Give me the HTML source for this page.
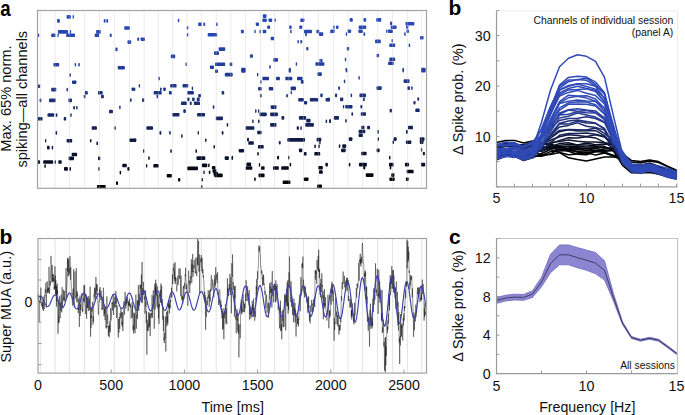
<!DOCTYPE html>
<html><head><meta charset="utf-8"><style>
html,body{margin:0;padding:0;background:#fff;width:685px;height:415px;overflow:hidden;}
svg{display:block;}
text{font-family:"Liberation Sans",sans-serif;}
</style></head><body>
<svg width="685" height="415" viewBox="0 0 685 415">
<rect width="685" height="415" fill="#fff"/>
<g id="pa">
<rect x="66.6" y="15.1" width="4.3" height="3.6" rx="0.9" fill="rgb(41,73,185)"/>
<rect x="72.6" y="15.1" width="1.3" height="3.6" rx="0.9" fill="rgb(41,73,185)"/>
<rect x="57.0" y="19.1" width="2.9" height="3.6" rx="0.9" fill="rgb(41,73,184)"/>
<rect x="103.7" y="19.1" width="1.9" height="3.6" rx="0.9" fill="rgb(41,73,184)"/>
<rect x="106.3" y="19.1" width="1.8" height="3.6" rx="0.9" fill="rgb(41,73,184)"/>
<rect x="124.2" y="26.2" width="5.8" height="3.6" rx="0.9" fill="rgb(41,72,181)"/>
<rect x="57.9" y="30.1" width="10.2" height="3.6" rx="0.9" fill="rgb(40,71,179)"/>
<rect x="69.8" y="30.1" width="1.3" height="3.6" rx="0.9" fill="rgb(40,71,179)"/>
<rect x="96.1" y="30.1" width="4.7" height="3.6" rx="0.9" fill="rgb(40,71,179)"/>
<rect x="37.0" y="33.5" width="2.2" height="3.6" rx="0.9" fill="rgb(40,70,177)"/>
<rect x="51.2" y="33.5" width="4.3" height="3.6" rx="0.9" fill="rgb(40,70,177)"/>
<rect x="57.4" y="33.5" width="1.3" height="3.6" rx="0.9" fill="rgb(40,70,177)"/>
<rect x="66.2" y="33.5" width="8.8" height="3.6" rx="0.9" fill="rgb(40,70,177)"/>
<rect x="94.7" y="33.5" width="4.3" height="3.6" rx="0.9" fill="rgb(40,70,177)"/>
<rect x="109.7" y="33.5" width="2.0" height="3.6" rx="0.9" fill="rgb(40,70,177)"/>
<rect x="127.5" y="40.3" width="3.7" height="3.6" rx="0.9" fill="rgb(39,69,173)"/>
<rect x="115.4" y="47.6" width="2.2" height="3.6" rx="0.9" fill="rgb(38,67,168)"/>
<rect x="53.4" y="62.9" width="5.8" height="3.6" rx="0.9" fill="rgb(35,62,156)"/>
<rect x="74.7" y="62.9" width="1.4" height="3.6" rx="0.9" fill="rgb(35,62,156)"/>
<rect x="78.2" y="62.9" width="1.6" height="3.6" rx="0.9" fill="rgb(35,62,156)"/>
<rect x="117.7" y="65.9" width="7.2" height="3.6" rx="0.9" fill="rgb(34,61,153)"/>
<rect x="177.8" y="18.7" width="1.5" height="3.6" rx="0.9" fill="rgb(41,73,184)"/>
<rect x="198.2" y="22.5" width="3.6" height="3.6" rx="0.9" fill="rgb(41,72,183)"/>
<rect x="203.3" y="22.5" width="1.9" height="3.6" rx="0.9" fill="rgb(41,72,183)"/>
<rect x="216.0" y="22.5" width="1.6" height="3.6" rx="0.9" fill="rgb(41,72,183)"/>
<rect x="186.8" y="26.0" width="1.5" height="3.6" rx="0.9" fill="rgb(41,72,181)"/>
<rect x="186.8" y="33.0" width="1.5" height="3.6" rx="0.9" fill="rgb(40,70,178)"/>
<rect x="207.7" y="33.0" width="9.5" height="3.6" rx="0.9" fill="rgb(40,70,178)"/>
<rect x="137.2" y="37.4" width="1.9" height="3.6" rx="0.9" fill="rgb(39,69,175)"/>
<rect x="140.6" y="37.4" width="4.4" height="3.6" rx="0.9" fill="rgb(39,69,175)"/>
<rect x="218.7" y="47.3" width="6.5" height="3.6" rx="0.9" fill="rgb(38,67,168)"/>
<rect x="214.0" y="51.3" width="5.0" height="3.6" rx="0.9" fill="rgb(37,65,165)"/>
<rect x="170.8" y="54.6" width="4.4" height="3.6" rx="0.9" fill="rgb(36,64,163)"/>
<rect x="185.5" y="62.5" width="1.3" height="3.6" rx="0.9" fill="rgb(35,62,156)"/>
<rect x="215.0" y="62.5" width="10.2" height="3.6" rx="0.9" fill="rgb(35,62,156)"/>
<rect x="229.6" y="62.5" width="1.9" height="3.6" rx="0.9" fill="rgb(35,62,156)"/>
<rect x="209.9" y="65.4" width="4.1" height="3.6" rx="0.9" fill="rgb(34,61,154)"/>
<rect x="262.8" y="14.3" width="3.7" height="3.6" rx="0.9" fill="rgb(41,73,185)"/>
<rect x="262.4" y="18.4" width="4.4" height="3.6" rx="0.9" fill="rgb(41,73,184)"/>
<rect x="268.5" y="18.4" width="3.7" height="3.6" rx="0.9" fill="rgb(41,73,184)"/>
<rect x="274.5" y="18.4" width="1.3" height="3.6" rx="0.9" fill="rgb(41,73,184)"/>
<rect x="300.3" y="18.4" width="4.1" height="3.6" rx="0.9" fill="rgb(41,73,184)"/>
<rect x="255.8" y="22.4" width="3.2" height="3.6" rx="0.9" fill="rgb(41,72,183)"/>
<rect x="267.2" y="25.4" width="2.9" height="3.6" rx="0.9" fill="rgb(41,72,182)"/>
<rect x="289.1" y="25.4" width="2.5" height="3.6" rx="0.9" fill="rgb(41,72,182)"/>
<rect x="299.3" y="25.4" width="2.9" height="3.6" rx="0.9" fill="rgb(41,72,182)"/>
<rect x="240.9" y="29.7" width="2.9" height="3.6" rx="0.9" fill="rgb(40,71,179)"/>
<rect x="254.4" y="29.7" width="1.3" height="3.6" rx="0.9" fill="rgb(40,71,179)"/>
<rect x="259.5" y="29.7" width="1.4" height="3.6" rx="0.9" fill="rgb(40,71,179)"/>
<rect x="262.7" y="29.7" width="3.6" height="3.6" rx="0.9" fill="rgb(40,71,179)"/>
<rect x="290.1" y="29.7" width="1.5" height="3.6" rx="0.9" fill="rgb(40,71,179)"/>
<rect x="304.0" y="29.7" width="8.0" height="3.6" rx="0.9" fill="rgb(40,71,179)"/>
<rect x="305.2" y="32.7" width="1.7" height="3.6" rx="0.9" fill="rgb(40,70,178)"/>
<rect x="316.4" y="29.7" width="2.9" height="3.6" rx="0.9" fill="rgb(40,71,179)"/>
<rect x="319.0" y="32.3" width="4.3" height="3.6" rx="0.9" fill="rgb(40,71,178)"/>
<rect x="330.3" y="29.7" width="1.3" height="3.6" rx="0.9" fill="rgb(40,71,179)"/>
<rect x="270.7" y="36.7" width="3.4" height="3.6" rx="0.9" fill="rgb(39,70,176)"/>
<rect x="297.4" y="39.9" width="1.5" height="3.6" rx="0.9" fill="rgb(39,69,173)"/>
<rect x="300.3" y="39.9" width="1.9" height="3.6" rx="0.9" fill="rgb(39,69,173)"/>
<rect x="306.2" y="46.9" width="2.2" height="3.6" rx="0.9" fill="rgb(38,67,169)"/>
<rect x="250.0" y="54.2" width="2.9" height="3.6" rx="0.9" fill="rgb(36,65,163)"/>
<rect x="273.3" y="58.1" width="4.7" height="3.6" rx="0.9" fill="rgb(36,63,160)"/>
<rect x="231.0" y="62.5" width="1.3" height="3.6" rx="0.9" fill="rgb(35,62,156)"/>
<rect x="295.7" y="62.2" width="1.4" height="3.6" rx="0.9" fill="rgb(35,62,156)"/>
<rect x="315.4" y="62.2" width="9.0" height="3.6" rx="0.9" fill="rgb(35,62,156)"/>
<rect x="319.5" y="58.7" width="1.3" height="3.6" rx="0.9" fill="rgb(36,63,159)"/>
<rect x="321.0" y="58.7" width="1.5" height="3.6" rx="0.9" fill="rgb(36,63,159)"/>
<rect x="269.2" y="65.1" width="1.5" height="3.6" rx="0.9" fill="rgb(34,61,154)"/>
<rect x="241.2" y="67.8" width="4.4" height="3.6" rx="0.9" fill="rgb(34,60,151)"/>
<rect x="288.7" y="67.8" width="2.2" height="3.6" rx="0.9" fill="rgb(34,60,151)"/>
<rect x="349.6" y="18.1" width="3.2" height="3.6" rx="0.9" fill="rgb(41,73,184)"/>
<rect x="363.5" y="18.1" width="2.7" height="3.6" rx="0.9" fill="rgb(41,73,184)"/>
<rect x="376.2" y="18.1" width="5.1" height="3.6" rx="0.9" fill="rgb(41,73,184)"/>
<rect x="390.0" y="21.6" width="2.2" height="3.6" rx="0.9" fill="rgb(41,73,183)"/>
<rect x="405.4" y="21.9" width="9.0" height="3.6" rx="0.9" fill="rgb(41,73,183)"/>
<rect x="333.1" y="25.4" width="1.5" height="3.6" rx="0.9" fill="rgb(41,72,182)"/>
<rect x="336.0" y="25.4" width="2.5" height="3.6" rx="0.9" fill="rgb(41,72,182)"/>
<rect x="358.7" y="25.4" width="7.5" height="3.6" rx="0.9" fill="rgb(41,72,182)"/>
<rect x="390.8" y="25.4" width="5.8" height="3.6" rx="0.9" fill="rgb(41,72,182)"/>
<rect x="406.1" y="25.4" width="2.2" height="3.6" rx="0.9" fill="rgb(41,72,182)"/>
<rect x="330.9" y="29.4" width="3.7" height="3.6" rx="0.9" fill="rgb(40,71,180)"/>
<rect x="347.7" y="29.4" width="3.4" height="3.6" rx="0.9" fill="rgb(40,71,180)"/>
<rect x="358.4" y="29.4" width="4.6" height="3.6" rx="0.9" fill="rgb(40,71,180)"/>
<rect x="386.1" y="29.4" width="1.3" height="3.6" rx="0.9" fill="rgb(40,71,180)"/>
<rect x="387.9" y="29.4" width="5.1" height="3.6" rx="0.9" fill="rgb(40,71,180)"/>
<rect x="406.5" y="29.4" width="2.5" height="3.6" rx="0.9" fill="rgb(40,71,180)"/>
<rect x="345.8" y="32.3" width="1.3" height="3.6" rx="0.9" fill="rgb(40,71,178)"/>
<rect x="363.5" y="32.3" width="1.7" height="3.6" rx="0.9" fill="rgb(40,71,178)"/>
<rect x="404.2" y="32.3" width="1.5" height="3.6" rx="0.9" fill="rgb(40,71,178)"/>
<rect x="420.0" y="35.9" width="3.6" height="3.6" rx="0.9" fill="rgb(39,70,176)"/>
<rect x="375.0" y="39.6" width="5.8" height="3.6" rx="0.9" fill="rgb(39,69,174)"/>
<rect x="391.5" y="38.9" width="1.5" height="3.6" rx="0.9" fill="rgb(39,69,174)"/>
<rect x="389.3" y="43.5" width="5.9" height="3.6" rx="0.9" fill="rgb(38,68,171)"/>
<rect x="408.7" y="43.5" width="1.5" height="3.6" rx="0.9" fill="rgb(38,68,171)"/>
<rect x="346.7" y="46.9" width="2.5" height="3.6" rx="0.9" fill="rgb(38,67,169)"/>
<rect x="376.6" y="53.7" width="2.5" height="3.6" rx="0.9" fill="rgb(37,65,163)"/>
<rect x="344.8" y="57.8" width="1.4" height="3.6" rx="0.9" fill="rgb(36,63,160)"/>
<rect x="389.3" y="57.5" width="5.9" height="3.6" rx="0.9" fill="rgb(36,63,160)"/>
<rect x="388.1" y="61.5" width="5.6" height="3.6" rx="0.9" fill="rgb(35,62,157)"/>
<rect x="345.5" y="67.8" width="1.5" height="3.6" rx="0.9" fill="rgb(34,60,151)"/>
<rect x="402.5" y="67.8" width="1.5" height="3.6" rx="0.9" fill="rgb(34,60,151)"/>
<rect x="421.1" y="67.8" width="4.4" height="3.6" rx="0.9" fill="rgb(34,60,151)"/>
<rect x="69.4" y="73.2" width="1.5" height="3.6" rx="0.9" fill="rgb(33,58,146)"/>
<rect x="72.0" y="80.4" width="4.4" height="3.6" rx="0.9" fill="rgb(31,55,139)"/>
<rect x="37.7" y="84.4" width="2.5" height="3.6" rx="0.9" fill="rgb(30,53,135)"/>
<rect x="51.2" y="87.8" width="5.1" height="3.6" rx="0.9" fill="rgb(29,52,131)"/>
<rect x="66.5" y="87.8" width="1.5" height="3.6" rx="0.9" fill="rgb(29,52,131)"/>
<rect x="131.6" y="87.4" width="2.5" height="3.6" rx="0.9" fill="rgb(29,52,132)"/>
<rect x="84.9" y="91.0" width="2.9" height="3.6" rx="0.9" fill="rgb(28,51,128)"/>
<rect x="83.7" y="94.7" width="1.8" height="3.6" rx="0.9" fill="rgb(28,49,124)"/>
<rect x="98.0" y="91.0" width="4.7" height="3.6" rx="0.9" fill="rgb(28,51,128)"/>
<rect x="101.0" y="94.7" width="2.9" height="3.6" rx="0.9" fill="rgb(28,49,124)"/>
<rect x="39.6" y="98.6" width="1.8" height="3.6" rx="0.9" fill="rgb(27,47,119)"/>
<rect x="49.0" y="98.6" width="6.7" height="3.6" rx="0.9" fill="rgb(27,47,119)"/>
<rect x="68.4" y="98.6" width="3.6" height="3.6" rx="0.9" fill="rgb(27,47,119)"/>
<rect x="130.0" y="98.3" width="1.6" height="3.6" rx="0.9" fill="rgb(27,47,120)"/>
<rect x="73.2" y="105.9" width="1.8" height="3.6" rx="0.9" fill="rgb(25,44,111)"/>
<rect x="76.1" y="105.9" width="1.5" height="3.6" rx="0.9" fill="rgb(25,44,111)"/>
<rect x="119.2" y="105.6" width="1.4" height="3.6" rx="0.9" fill="rgb(25,44,111)"/>
<rect x="109.0" y="109.7" width="3.9" height="3.6" rx="0.9" fill="rgb(24,42,106)"/>
<rect x="47.5" y="113.2" width="6.7" height="3.6" rx="0.9" fill="rgb(23,40,102)"/>
<rect x="55.7" y="113.2" width="1.7" height="3.6" rx="0.9" fill="rgb(23,40,102)"/>
<rect x="70.3" y="113.2" width="1.4" height="3.6" rx="0.9" fill="rgb(23,40,102)"/>
<rect x="37.7" y="117.0" width="4.8" height="3.6" rx="0.9" fill="rgb(22,38,97)"/>
<rect x="63.7" y="117.0" width="2.5" height="3.6" rx="0.9" fill="rgb(22,38,97)"/>
<rect x="91.7" y="126.2" width="5.2" height="3.6" rx="0.9" fill="rgb(19,34,85)"/>
<rect x="114.4" y="126.2" width="1.4" height="3.6" rx="0.9" fill="rgb(19,34,85)"/>
<rect x="215.0" y="69.4" width="3.0" height="3.6" rx="0.9" fill="rgb(33,59,150)"/>
<rect x="224.8" y="72.8" width="7.7" height="3.6" rx="0.9" fill="rgb(33,58,147)"/>
<rect x="158.4" y="76.7" width="1.4" height="3.6" rx="0.9" fill="rgb(32,57,143)"/>
<rect x="138.7" y="84.0" width="1.4" height="3.6" rx="0.9" fill="rgb(30,54,135)"/>
<rect x="134.0" y="87.4" width="1.3" height="3.6" rx="0.9" fill="rgb(29,52,132)"/>
<rect x="170.2" y="84.0" width="6.4" height="3.6" rx="0.9" fill="rgb(30,54,135)"/>
<rect x="182.5" y="84.0" width="5.8" height="3.6" rx="0.9" fill="rgb(30,54,135)"/>
<rect x="160.0" y="87.4" width="1.7" height="3.6" rx="0.9" fill="rgb(29,52,132)"/>
<rect x="163.2" y="87.4" width="2.6" height="3.6" rx="0.9" fill="rgb(29,52,132)"/>
<rect x="191.7" y="86.6" width="1.4" height="3.6" rx="0.9" fill="rgb(30,52,133)"/>
<rect x="153.7" y="91.0" width="8.0" height="3.6" rx="0.9" fill="rgb(28,51,128)"/>
<rect x="169.0" y="91.0" width="2.7" height="3.6" rx="0.9" fill="rgb(28,51,128)"/>
<rect x="187.3" y="91.0" width="6.6" height="3.6" rx="0.9" fill="rgb(28,51,128)"/>
<rect x="221.6" y="91.0" width="2.6" height="3.6" rx="0.9" fill="rgb(28,51,128)"/>
<rect x="156.6" y="94.7" width="1.5" height="3.6" rx="0.9" fill="rgb(28,49,124)"/>
<rect x="198.2" y="93.9" width="2.7" height="3.6" rx="0.9" fill="rgb(28,49,125)"/>
<rect x="142.0" y="98.3" width="2.2" height="3.6" rx="0.9" fill="rgb(27,47,120)"/>
<rect x="187.3" y="97.6" width="2.2" height="3.6" rx="0.9" fill="rgb(27,48,120)"/>
<rect x="192.1" y="97.6" width="2.5" height="3.6" rx="0.9" fill="rgb(27,48,120)"/>
<rect x="196.8" y="97.6" width="2.9" height="3.6" rx="0.9" fill="rgb(27,48,120)"/>
<rect x="181.0" y="101.5" width="5.8" height="3.6" rx="0.9" fill="rgb(26,46,116)"/>
<rect x="189.8" y="101.5" width="1.9" height="3.6" rx="0.9" fill="rgb(26,46,116)"/>
<rect x="193.9" y="101.5" width="6.1" height="3.6" rx="0.9" fill="rgb(26,46,116)"/>
<rect x="212.8" y="105.3" width="1.5" height="3.6" rx="0.9" fill="rgb(25,44,111)"/>
<rect x="183.3" y="109.3" width="2.5" height="3.6" rx="0.9" fill="rgb(24,42,107)"/>
<rect x="172.2" y="112.9" width="7.3" height="3.6" rx="0.9" fill="rgb(23,40,102)"/>
<rect x="197.1" y="112.9" width="8.0" height="3.6" rx="0.9" fill="rgb(23,40,102)"/>
<rect x="215.8" y="116.6" width="7.2" height="3.6" rx="0.9" fill="rgb(22,39,98)"/>
<rect x="226.7" y="123.1" width="1.5" height="3.6" rx="0.9" fill="rgb(20,35,89)"/>
<rect x="146.4" y="126.2" width="6.6" height="3.6" rx="0.9" fill="rgb(19,34,85)"/>
<rect x="241.2" y="69.1" width="4.4" height="3.6" rx="0.9" fill="rgb(34,59,150)"/>
<rect x="231.0" y="72.8" width="1.5" height="3.6" rx="0.9" fill="rgb(33,58,147)"/>
<rect x="257.0" y="72.8" width="1.3" height="3.6" rx="0.9" fill="rgb(33,58,147)"/>
<rect x="288.7" y="69.1" width="2.2" height="3.6" rx="0.9" fill="rgb(34,59,150)"/>
<rect x="317.4" y="72.3" width="4.4" height="3.6" rx="0.9" fill="rgb(33,58,147)"/>
<rect x="262.4" y="76.7" width="6.6" height="3.6" rx="0.9" fill="rgb(32,57,143)"/>
<rect x="260.2" y="80.1" width="1.3" height="3.6" rx="0.9" fill="rgb(31,55,139)"/>
<rect x="276.0" y="76.7" width="3.9" height="3.6" rx="0.9" fill="rgb(32,57,143)"/>
<rect x="285.3" y="76.7" width="7.0" height="3.6" rx="0.9" fill="rgb(32,57,143)"/>
<rect x="297.0" y="76.7" width="5.5" height="3.6" rx="0.9" fill="rgb(32,57,143)"/>
<rect x="300.8" y="80.1" width="2.9" height="3.6" rx="0.9" fill="rgb(31,55,139)"/>
<rect x="258.0" y="86.9" width="3.7" height="3.6" rx="0.9" fill="rgb(29,52,132)"/>
<rect x="268.7" y="86.9" width="4.6" height="3.6" rx="0.9" fill="rgb(29,52,132)"/>
<rect x="290.6" y="86.6" width="5.4" height="3.6" rx="0.9" fill="rgb(30,52,133)"/>
<rect x="290.6" y="90.7" width="1.3" height="3.6" rx="0.9" fill="rgb(29,51,128)"/>
<rect x="259.9" y="93.9" width="1.8" height="3.6" rx="0.9" fill="rgb(28,49,125)"/>
<rect x="286.2" y="93.9" width="1.7" height="3.6" rx="0.9" fill="rgb(28,49,125)"/>
<rect x="298.2" y="98.0" width="5.8" height="3.6" rx="0.9" fill="rgb(27,47,120)"/>
<rect x="304.0" y="100.9" width="3.2" height="3.6" rx="0.9" fill="rgb(26,46,117)"/>
<rect x="309.8" y="98.0" width="8.5" height="3.6" rx="0.9" fill="rgb(27,47,120)"/>
<rect x="320.3" y="93.6" width="2.4" height="3.6" rx="0.9" fill="rgb(28,49,125)"/>
<rect x="325.6" y="98.0" width="4.4" height="3.6" rx="0.9" fill="rgb(27,47,120)"/>
<rect x="270.7" y="105.3" width="5.8" height="3.6" rx="0.9" fill="rgb(25,44,111)"/>
<rect x="255.1" y="109.3" width="1.4" height="3.6" rx="0.9" fill="rgb(24,42,107)"/>
<rect x="258.0" y="109.3" width="1.3" height="3.6" rx="0.9" fill="rgb(24,42,107)"/>
<rect x="259.5" y="112.6" width="7.3" height="3.6" rx="0.9" fill="rgb(23,40,103)"/>
<rect x="270.1" y="112.6" width="7.9" height="3.6" rx="0.9" fill="rgb(23,40,103)"/>
<rect x="281.4" y="116.1" width="2.9" height="3.6" rx="0.9" fill="rgb(22,39,98)"/>
<rect x="298.9" y="116.1" width="7.3" height="3.6" rx="0.9" fill="rgb(22,39,98)"/>
<rect x="252.2" y="119.5" width="1.4" height="3.6" rx="0.9" fill="rgb(21,37,94)"/>
<rect x="258.0" y="119.5" width="1.5" height="3.6" rx="0.9" fill="rgb(21,37,94)"/>
<rect x="306.2" y="118.8" width="4.4" height="3.6" rx="0.9" fill="rgb(21,37,95)"/>
<rect x="325.6" y="119.5" width="1.5" height="3.6" rx="0.9" fill="rgb(21,37,94)"/>
<rect x="329.1" y="119.5" width="1.9" height="3.6" rx="0.9" fill="rgb(21,37,94)"/>
<rect x="270.1" y="123.1" width="6.4" height="3.6" rx="0.9" fill="rgb(20,35,89)"/>
<rect x="305.2" y="123.1" width="8.7" height="3.6" rx="0.9" fill="rgb(20,35,89)"/>
<rect x="245.6" y="126.2" width="8.8" height="3.6" rx="0.9" fill="rgb(19,34,85)"/>
<rect x="296.7" y="126.2" width="2.2" height="3.6" rx="0.9" fill="rgb(19,34,85)"/>
<rect x="300.3" y="126.2" width="1.5" height="3.6" rx="0.9" fill="rgb(19,34,85)"/>
<rect x="345.8" y="68.8" width="1.5" height="3.6" rx="0.9" fill="rgb(34,60,150)"/>
<rect x="402.5" y="68.8" width="1.4" height="3.6" rx="0.9" fill="rgb(34,60,150)"/>
<rect x="421.1" y="68.8" width="4.4" height="3.6" rx="0.9" fill="rgb(34,60,150)"/>
<rect x="358.4" y="76.1" width="1.4" height="3.6" rx="0.9" fill="rgb(32,57,143)"/>
<rect x="343.8" y="79.6" width="1.4" height="3.6" rx="0.9" fill="rgb(31,55,140)"/>
<rect x="403.6" y="79.3" width="5.9" height="3.6" rx="0.9" fill="rgb(31,55,140)"/>
<rect x="338.2" y="86.3" width="1.8" height="3.6" rx="0.9" fill="rgb(30,53,133)"/>
<rect x="376.5" y="86.3" width="5.2" height="3.6" rx="0.9" fill="rgb(30,53,133)"/>
<rect x="407.3" y="86.3" width="2.7" height="3.6" rx="0.9" fill="rgb(30,53,133)"/>
<rect x="411.2" y="86.3" width="1.5" height="3.6" rx="0.9" fill="rgb(30,53,133)"/>
<rect x="335.0" y="93.6" width="2.1" height="3.6" rx="0.9" fill="rgb(28,49,125)"/>
<rect x="350.6" y="93.6" width="1.5" height="3.6" rx="0.9" fill="rgb(28,49,125)"/>
<rect x="359.4" y="93.6" width="6.6" height="3.6" rx="0.9" fill="rgb(28,49,125)"/>
<rect x="363.0" y="97.6" width="1.8" height="3.6" rx="0.9" fill="rgb(27,48,120)"/>
<rect x="328.0" y="97.6" width="1.8" height="3.6" rx="0.9" fill="rgb(27,48,120)"/>
<rect x="340.0" y="97.6" width="3.3" height="3.6" rx="0.9" fill="rgb(27,48,120)"/>
<rect x="417.3" y="97.2" width="1.9" height="3.6" rx="0.9" fill="rgb(27,48,121)"/>
<rect x="413.4" y="100.9" width="2.2" height="3.6" rx="0.9" fill="rgb(26,46,117)"/>
<rect x="342.9" y="104.9" width="1.3" height="3.6" rx="0.9" fill="rgb(25,44,112)"/>
<rect x="345.2" y="104.9" width="7.3" height="3.6" rx="0.9" fill="rgb(25,44,112)"/>
<rect x="360.4" y="104.9" width="1.9" height="3.6" rx="0.9" fill="rgb(25,44,112)"/>
<rect x="389.6" y="108.8" width="2.3" height="3.6" rx="0.9" fill="rgb(24,42,107)"/>
<rect x="415.3" y="108.5" width="4.4" height="3.6" rx="0.9" fill="rgb(24,42,108)"/>
<rect x="351.4" y="112.2" width="1.7" height="3.6" rx="0.9" fill="rgb(23,41,103)"/>
<rect x="360.8" y="112.2" width="5.2" height="3.6" rx="0.9" fill="rgb(23,41,103)"/>
<rect x="333.8" y="116.1" width="5.2" height="3.6" rx="0.9" fill="rgb(22,39,98)"/>
<rect x="329.5" y="119.0" width="1.4" height="3.6" rx="0.9" fill="rgb(21,37,94)"/>
<rect x="345.2" y="119.0" width="1.5" height="3.6" rx="0.9" fill="rgb(21,37,94)"/>
<rect x="361.3" y="125.7" width="3.2" height="3.6" rx="0.9" fill="rgb(19,34,86)"/>
<rect x="367.1" y="125.7" width="2.9" height="3.6" rx="0.9" fill="rgb(19,34,86)"/>
<rect x="408.0" y="125.7" width="5.0" height="3.6" rx="0.9" fill="rgb(19,34,86)"/>
<rect x="55.5" y="131.1" width="1.6" height="3.6" rx="0.9" fill="rgb(17,31,79)"/>
<rect x="45.0" y="138.9" width="1.3" height="3.6" rx="0.9" fill="rgb(15,27,68)"/>
<rect x="66.6" y="138.9" width="5.6" height="3.6" rx="0.9" fill="rgb(15,27,68)"/>
<rect x="89.9" y="138.9" width="1.6" height="3.6" rx="0.9" fill="rgb(15,27,68)"/>
<rect x="129.3" y="138.4" width="6.5" height="3.6" rx="0.9" fill="rgb(15,27,69)"/>
<rect x="96.4" y="141.5" width="1.6" height="3.6" rx="0.9" fill="rgb(14,25,64)"/>
<rect x="47.0" y="145.8" width="2.7" height="3.6" rx="0.9" fill="rgb(13,23,58)"/>
<rect x="51.7" y="145.8" width="1.5" height="3.6" rx="0.9" fill="rgb(13,23,58)"/>
<rect x="71.7" y="152.7" width="5.4" height="3.6" rx="0.9" fill="rgb(10,19,48)"/>
<rect x="68.6" y="156.6" width="5.4" height="3.6" rx="0.9" fill="rgb(9,17,42)"/>
<rect x="98.0" y="156.6" width="2.3" height="3.6" rx="0.9" fill="rgb(9,17,42)"/>
<rect x="37.8" y="160.2" width="2.3" height="3.6" rx="0.9" fill="rgb(8,14,37)"/>
<rect x="43.2" y="160.2" width="10.0" height="3.6" rx="0.9" fill="rgb(8,14,37)"/>
<rect x="54.7" y="160.2" width="1.3" height="3.6" rx="0.9" fill="rgb(8,14,37)"/>
<rect x="58.3" y="160.2" width="3.4" height="3.6" rx="0.9" fill="rgb(8,14,37)"/>
<rect x="44.4" y="164.3" width="1.4" height="3.6" rx="0.9" fill="rgb(7,12,31)"/>
<rect x="64.0" y="167.1" width="3.9" height="3.6" rx="0.9" fill="rgb(6,10,27)"/>
<rect x="69.4" y="167.1" width="1.6" height="3.6" rx="0.9" fill="rgb(6,10,27)"/>
<rect x="98.3" y="167.1" width="1.3" height="3.6" rx="0.9" fill="rgb(6,10,27)"/>
<rect x="122.3" y="163.7" width="4.5" height="3.6" rx="0.9" fill="rgb(7,12,32)"/>
<rect x="127.3" y="167.1" width="2.3" height="3.6" rx="0.9" fill="rgb(6,10,27)"/>
<rect x="119.6" y="170.8" width="1.5" height="3.6" rx="0.9" fill="rgb(4,8,21)"/>
<rect x="116.0" y="181.3" width="2.0" height="3.6" rx="0.9" fill="rgb(1,1,4)"/>
<rect x="96.9" y="185.0" width="8.8" height="3.6" rx="0.9" fill="rgb(0,0,0)"/>
<rect x="159.5" y="131.1" width="1.8" height="3.6" rx="0.9" fill="rgb(17,31,79)"/>
<rect x="169.2" y="131.1" width="1.5" height="3.6" rx="0.9" fill="rgb(17,31,79)"/>
<rect x="181.1" y="134.2" width="1.5" height="3.6" rx="0.9" fill="rgb(16,29,74)"/>
<rect x="197.6" y="131.1" width="1.3" height="3.6" rx="0.9" fill="rgb(17,31,79)"/>
<rect x="221.7" y="131.1" width="1.8" height="3.6" rx="0.9" fill="rgb(17,31,79)"/>
<rect x="134.0" y="138.4" width="2.3" height="3.6" rx="0.9" fill="rgb(15,27,69)"/>
<rect x="205.0" y="138.4" width="1.5" height="3.6" rx="0.9" fill="rgb(15,27,69)"/>
<rect x="213.5" y="145.0" width="1.5" height="3.6" rx="0.9" fill="rgb(13,23,59)"/>
<rect x="143.0" y="149.2" width="1.3" height="3.6" rx="0.9" fill="rgb(12,21,53)"/>
<rect x="170.3" y="149.2" width="1.5" height="3.6" rx="0.9" fill="rgb(12,21,53)"/>
<rect x="195.4" y="149.2" width="1.6" height="3.6" rx="0.9" fill="rgb(12,21,53)"/>
<rect x="148.2" y="156.3" width="1.5" height="3.6" rx="0.9" fill="rgb(9,17,43)"/>
<rect x="196.5" y="156.3" width="8.8" height="3.6" rx="0.9" fill="rgb(9,17,43)"/>
<rect x="224.7" y="156.3" width="4.2" height="3.6" rx="0.9" fill="rgb(9,17,43)"/>
<rect x="231.5" y="156.3" width="1.3" height="3.6" rx="0.9" fill="rgb(9,17,43)"/>
<rect x="146.0" y="164.0" width="1.3" height="3.6" rx="0.9" fill="rgb(7,12,31)"/>
<rect x="153.3" y="164.0" width="5.4" height="3.6" rx="0.9" fill="rgb(7,12,31)"/>
<rect x="187.2" y="166.6" width="10.8" height="3.6" rx="0.9" fill="rgb(6,11,27)"/>
<rect x="201.9" y="163.6" width="5.4" height="3.6" rx="0.9" fill="rgb(7,12,32)"/>
<rect x="208.1" y="163.6" width="1.5" height="3.6" rx="0.9" fill="rgb(7,12,32)"/>
<rect x="211.9" y="165.9" width="3.6" height="3.6" rx="0.9" fill="rgb(6,11,28)"/>
<rect x="212.5" y="169.2" width="4.0" height="3.6" rx="0.9" fill="rgb(5,9,23)"/>
<rect x="213.5" y="172.0" width="4.6" height="3.6" rx="0.9" fill="rgb(4,7,19)"/>
<rect x="203.4" y="170.5" width="1.3" height="3.6" rx="0.9" fill="rgb(4,8,21)"/>
<rect x="208.8" y="170.5" width="1.6" height="3.6" rx="0.9" fill="rgb(4,8,21)"/>
<rect x="214.2" y="173.6" width="8.5" height="3.6" rx="0.9" fill="rgb(3,6,16)"/>
<rect x="166.7" y="173.9" width="5.1" height="3.6" rx="0.9" fill="rgb(3,6,16)"/>
<rect x="178.0" y="177.9" width="2.3" height="3.6" rx="0.9" fill="rgb(2,4,10)"/>
<rect x="201.6" y="177.9" width="1.3" height="3.6" rx="0.9" fill="rgb(2,4,10)"/>
<rect x="201.1" y="185.0" width="1.3" height="3.6" rx="0.9" fill="rgb(0,0,0)"/>
<rect x="257.2" y="130.7" width="4.4" height="3.6" rx="0.9" fill="rgb(17,31,79)"/>
<rect x="247.0" y="137.8" width="2.0" height="3.6" rx="0.9" fill="rgb(15,27,69)"/>
<rect x="248.3" y="141.2" width="5.5" height="3.6" rx="0.9" fill="rgb(14,25,65)"/>
<rect x="278.8" y="140.9" width="1.9" height="3.6" rx="0.9" fill="rgb(14,26,65)"/>
<rect x="287.3" y="138.1" width="17.8" height="3.6" rx="0.9" fill="rgb(15,27,69)"/>
<rect x="316.6" y="137.8" width="4.7" height="3.6" rx="0.9" fill="rgb(15,27,69)"/>
<rect x="319.3" y="140.9" width="1.3" height="3.6" rx="0.9" fill="rgb(14,26,65)"/>
<rect x="258.0" y="145.0" width="5.7" height="3.6" rx="0.9" fill="rgb(13,23,59)"/>
<rect x="314.3" y="144.6" width="1.6" height="3.6" rx="0.9" fill="rgb(13,24,60)"/>
<rect x="318.2" y="144.6" width="1.5" height="3.6" rx="0.9" fill="rgb(13,24,60)"/>
<rect x="238.7" y="148.9" width="5.4" height="3.6" rx="0.9" fill="rgb(12,21,54)"/>
<rect x="298.9" y="148.6" width="3.4" height="3.6" rx="0.9" fill="rgb(12,21,54)"/>
<rect x="303.8" y="152.0" width="2.8" height="3.6" rx="0.9" fill="rgb(11,19,49)"/>
<rect x="257.2" y="152.0" width="1.6" height="3.6" rx="0.9" fill="rgb(11,19,49)"/>
<rect x="314.3" y="152.0" width="5.9" height="3.6" rx="0.9" fill="rgb(11,19,49)"/>
<rect x="231.8" y="155.8" width="1.3" height="3.6" rx="0.9" fill="rgb(9,17,44)"/>
<rect x="277.0" y="155.8" width="2.1" height="3.6" rx="0.9" fill="rgb(9,17,44)"/>
<rect x="288.1" y="155.8" width="1.3" height="3.6" rx="0.9" fill="rgb(9,17,44)"/>
<rect x="246.4" y="162.5" width="4.7" height="3.6" rx="0.9" fill="rgb(7,13,34)"/>
<rect x="245.7" y="166.2" width="6.6" height="3.6" rx="0.9" fill="rgb(6,11,28)"/>
<rect x="258.8" y="163.1" width="1.3" height="3.6" rx="0.9" fill="rgb(7,13,33)"/>
<rect x="261.1" y="166.2" width="3.5" height="3.6" rx="0.9" fill="rgb(6,11,28)"/>
<rect x="273.0" y="166.2" width="5.8" height="3.6" rx="0.9" fill="rgb(6,11,28)"/>
<rect x="281.2" y="166.2" width="7.7" height="3.6" rx="0.9" fill="rgb(6,11,28)"/>
<rect x="289.6" y="162.8" width="1.6" height="3.6" rx="0.9" fill="rgb(7,13,33)"/>
<rect x="318.2" y="165.9" width="4.6" height="3.6" rx="0.9" fill="rgb(6,11,28)"/>
<rect x="319.0" y="170.2" width="3.8" height="3.6" rx="0.9" fill="rgb(5,8,22)"/>
<rect x="325.4" y="162.8" width="2.5" height="3.6" rx="0.9" fill="rgb(7,13,33)"/>
<rect x="258.5" y="173.6" width="6.1" height="3.6" rx="0.9" fill="rgb(3,6,16)"/>
<rect x="254.1" y="177.4" width="1.6" height="3.6" rx="0.9" fill="rgb(2,4,10)"/>
<rect x="303.8" y="177.4" width="4.7" height="3.6" rx="0.9" fill="rgb(2,4,10)"/>
<rect x="282.7" y="180.5" width="7.7" height="3.6" rx="0.9" fill="rgb(1,2,5)"/>
<rect x="317.1" y="184.6" width="4.9" height="3.6" rx="0.9" fill="rgb(0,0,0)"/>
<rect x="358.6" y="129.7" width="6.7" height="3.6" rx="0.9" fill="rgb(18,32,80)"/>
<rect x="358.6" y="133.5" width="4.4" height="3.6" rx="0.9" fill="rgb(17,30,75)"/>
<rect x="377.4" y="130.1" width="1.5" height="3.6" rx="0.9" fill="rgb(18,32,80)"/>
<rect x="405.9" y="130.1" width="2.0" height="3.6" rx="0.9" fill="rgb(18,32,80)"/>
<rect x="348.8" y="137.3" width="3.6" height="3.6" rx="0.9" fill="rgb(15,28,70)"/>
<rect x="377.7" y="137.3" width="1.3" height="3.6" rx="0.9" fill="rgb(15,28,70)"/>
<rect x="393.6" y="137.3" width="3.1" height="3.6" rx="0.9" fill="rgb(15,28,70)"/>
<rect x="392.5" y="140.4" width="1.5" height="3.6" rx="0.9" fill="rgb(14,26,66)"/>
<rect x="405.9" y="140.4" width="5.4" height="3.6" rx="0.9" fill="rgb(14,26,66)"/>
<rect x="419.8" y="137.3" width="4.7" height="3.6" rx="0.9" fill="rgb(15,28,70)"/>
<rect x="419.8" y="140.4" width="3.7" height="3.6" rx="0.9" fill="rgb(14,26,66)"/>
<rect x="338.8" y="144.3" width="1.5" height="3.6" rx="0.9" fill="rgb(13,24,60)"/>
<rect x="342.2" y="144.3" width="4.0" height="3.6" rx="0.9" fill="rgb(13,24,60)"/>
<rect x="341.1" y="148.6" width="4.6" height="3.6" rx="0.9" fill="rgb(12,21,54)"/>
<rect x="376.6" y="148.6" width="3.1" height="3.6" rx="0.9" fill="rgb(12,21,54)"/>
<rect x="420.9" y="148.1" width="1.3" height="3.6" rx="0.9" fill="rgb(12,22,55)"/>
<rect x="422.9" y="151.7" width="2.0" height="3.6" rx="0.9" fill="rgb(11,19,50)"/>
<rect x="361.2" y="151.7" width="5.4" height="3.6" rx="0.9" fill="rgb(11,19,50)"/>
<rect x="389.0" y="155.8" width="1.5" height="3.6" rx="0.9" fill="rgb(9,17,44)"/>
<rect x="348.8" y="162.8" width="1.6" height="3.6" rx="0.9" fill="rgb(7,13,33)"/>
<rect x="358.9" y="162.8" width="8.0" height="3.6" rx="0.9" fill="rgb(7,13,33)"/>
<rect x="363.2" y="165.9" width="2.1" height="3.6" rx="0.9" fill="rgb(6,11,28)"/>
<rect x="389.0" y="162.8" width="4.6" height="3.6" rx="0.9" fill="rgb(7,13,33)"/>
<rect x="389.7" y="165.9" width="1.6" height="3.6" rx="0.9" fill="rgb(6,11,28)"/>
<rect x="404.9" y="162.8" width="4.1" height="3.6" rx="0.9" fill="rgb(7,13,33)"/>
<rect x="420.9" y="162.8" width="4.3" height="3.6" rx="0.9" fill="rgb(7,13,33)"/>
<rect x="406.7" y="169.7" width="6.9" height="3.6" rx="0.9" fill="rgb(5,9,23)"/>
<rect x="365.8" y="173.3" width="7.7" height="3.6" rx="0.9" fill="rgb(3,6,17)"/>
<rect x="391.3" y="173.3" width="3.1" height="3.6" rx="0.9" fill="rgb(3,6,17)"/>
<rect x="389.4" y="177.4" width="5.3" height="3.6" rx="0.9" fill="rgb(2,4,10)"/>
<rect x="405.9" y="177.4" width="2.7" height="3.6" rx="0.9" fill="rgb(2,4,10)"/>
<line x1="40.3" y1="11" x2="40.3" y2="188" stroke="#c4c4c4" stroke-opacity="0.32" stroke-width="1.1"/>
<line x1="55.1" y1="11" x2="55.1" y2="188" stroke="#c4c4c4" stroke-opacity="0.32" stroke-width="1.1"/>
<line x1="69.4" y1="11" x2="69.4" y2="188" stroke="#c4c4c4" stroke-opacity="0.32" stroke-width="1.1"/>
<line x1="84.45" y1="11" x2="84.45" y2="188" stroke="#c4c4c4" stroke-opacity="0.32" stroke-width="1.1"/>
<line x1="99.5" y1="11" x2="99.5" y2="188" stroke="#c4c4c4" stroke-opacity="0.32" stroke-width="1.1"/>
<line x1="114.3" y1="11" x2="114.3" y2="188" stroke="#c4c4c4" stroke-opacity="0.32" stroke-width="1.1"/>
<line x1="129.45" y1="11" x2="129.45" y2="188" stroke="#c4c4c4" stroke-opacity="0.32" stroke-width="1.1"/>
<line x1="144.1" y1="11" x2="144.1" y2="188" stroke="#c4c4c4" stroke-opacity="0.32" stroke-width="1.1"/>
<line x1="158.4" y1="11" x2="158.4" y2="188" stroke="#c4c4c4" stroke-opacity="0.32" stroke-width="1.1"/>
<line x1="172.65" y1="11" x2="172.65" y2="188" stroke="#c4c4c4" stroke-opacity="0.32" stroke-width="1.1"/>
<line x1="187" y1="11" x2="187" y2="188" stroke="#c4c4c4" stroke-opacity="0.32" stroke-width="1.1"/>
<line x1="201.4" y1="11" x2="201.4" y2="188" stroke="#c4c4c4" stroke-opacity="0.32" stroke-width="1.1"/>
<line x1="216.2" y1="11" x2="216.2" y2="188" stroke="#c4c4c4" stroke-opacity="0.32" stroke-width="1.1"/>
<line x1="230.8" y1="11" x2="230.8" y2="188" stroke="#c4c4c4" stroke-opacity="0.32" stroke-width="1.1"/>
<line x1="245.65" y1="11" x2="245.65" y2="188" stroke="#c4c4c4" stroke-opacity="0.32" stroke-width="1.1"/>
<line x1="260.45" y1="11" x2="260.45" y2="188" stroke="#c4c4c4" stroke-opacity="0.32" stroke-width="1.1"/>
<line x1="274.55" y1="11" x2="274.55" y2="188" stroke="#c4c4c4" stroke-opacity="0.32" stroke-width="1.1"/>
<line x1="288.85" y1="11" x2="288.85" y2="188" stroke="#c4c4c4" stroke-opacity="0.32" stroke-width="1.1"/>
<line x1="303.55" y1="11" x2="303.55" y2="188" stroke="#c4c4c4" stroke-opacity="0.32" stroke-width="1.1"/>
<line x1="318.4" y1="11" x2="318.4" y2="188" stroke="#c4c4c4" stroke-opacity="0.32" stroke-width="1.1"/>
<line x1="333.7" y1="11" x2="333.7" y2="188" stroke="#c4c4c4" stroke-opacity="0.32" stroke-width="1.1"/>
<line x1="347.9" y1="11" x2="347.9" y2="188" stroke="#c4c4c4" stroke-opacity="0.32" stroke-width="1.1"/>
<line x1="362.65" y1="11" x2="362.65" y2="188" stroke="#c4c4c4" stroke-opacity="0.32" stroke-width="1.1"/>
<line x1="377.65" y1="11" x2="377.65" y2="188" stroke="#c4c4c4" stroke-opacity="0.32" stroke-width="1.1"/>
<line x1="392.6" y1="11" x2="392.6" y2="188" stroke="#c4c4c4" stroke-opacity="0.32" stroke-width="1.1"/>
<line x1="407.55" y1="11" x2="407.55" y2="188" stroke="#c4c4c4" stroke-opacity="0.32" stroke-width="1.1"/>
<line x1="421.75" y1="11" x2="421.75" y2="188" stroke="#c4c4c4" stroke-opacity="0.32" stroke-width="1.1"/>
<rect x="37.5" y="10.5" width="389" height="177.8" fill="none" stroke="#a2a2a2" stroke-width="1.2"/>
</g>
<g id="pb">
<line x1="40.3" y1="239" x2="40.3" y2="373" stroke="#e4e4e4" stroke-width="1"/>
<line x1="55.1" y1="239" x2="55.1" y2="373" stroke="#e4e4e4" stroke-width="1"/>
<line x1="69.4" y1="239" x2="69.4" y2="373" stroke="#e4e4e4" stroke-width="1"/>
<line x1="84.45" y1="239" x2="84.45" y2="373" stroke="#e4e4e4" stroke-width="1"/>
<line x1="99.5" y1="239" x2="99.5" y2="373" stroke="#e4e4e4" stroke-width="1"/>
<line x1="114.3" y1="239" x2="114.3" y2="373" stroke="#e4e4e4" stroke-width="1"/>
<line x1="129.45" y1="239" x2="129.45" y2="373" stroke="#e4e4e4" stroke-width="1"/>
<line x1="144.1" y1="239" x2="144.1" y2="373" stroke="#e4e4e4" stroke-width="1"/>
<line x1="158.4" y1="239" x2="158.4" y2="373" stroke="#e4e4e4" stroke-width="1"/>
<line x1="172.65" y1="239" x2="172.65" y2="373" stroke="#e4e4e4" stroke-width="1"/>
<line x1="187" y1="239" x2="187" y2="373" stroke="#e4e4e4" stroke-width="1"/>
<line x1="201.4" y1="239" x2="201.4" y2="373" stroke="#e4e4e4" stroke-width="1"/>
<line x1="216.2" y1="239" x2="216.2" y2="373" stroke="#e4e4e4" stroke-width="1"/>
<line x1="230.8" y1="239" x2="230.8" y2="373" stroke="#e4e4e4" stroke-width="1"/>
<line x1="245.65" y1="239" x2="245.65" y2="373" stroke="#e4e4e4" stroke-width="1"/>
<line x1="260.45" y1="239" x2="260.45" y2="373" stroke="#e4e4e4" stroke-width="1"/>
<line x1="274.55" y1="239" x2="274.55" y2="373" stroke="#e4e4e4" stroke-width="1"/>
<line x1="288.85" y1="239" x2="288.85" y2="373" stroke="#e4e4e4" stroke-width="1"/>
<line x1="303.55" y1="239" x2="303.55" y2="373" stroke="#e4e4e4" stroke-width="1"/>
<line x1="318.4" y1="239" x2="318.4" y2="373" stroke="#e4e4e4" stroke-width="1"/>
<line x1="333.7" y1="239" x2="333.7" y2="373" stroke="#e4e4e4" stroke-width="1"/>
<line x1="347.9" y1="239" x2="347.9" y2="373" stroke="#e4e4e4" stroke-width="1"/>
<line x1="362.65" y1="239" x2="362.65" y2="373" stroke="#e4e4e4" stroke-width="1"/>
<line x1="377.65" y1="239" x2="377.65" y2="373" stroke="#e4e4e4" stroke-width="1"/>
<line x1="392.6" y1="239" x2="392.6" y2="373" stroke="#e4e4e4" stroke-width="1"/>
<line x1="407.55" y1="239" x2="407.55" y2="373" stroke="#e4e4e4" stroke-width="1"/>
<line x1="421.75" y1="239" x2="421.75" y2="373" stroke="#e4e4e4" stroke-width="1"/>
<polyline points="38.00,298.7 38.22,293.7 38.44,302.1 38.66,296.5 38.88,311.3 39.10,322.0 39.32,306.3 39.54,300.1 39.76,301.6 39.98,301.3 40.20,302.9 40.42,296.5 40.64,301.3 40.86,287.6 41.08,301.2 41.30,303.8 41.52,304.7 41.74,305.6 41.96,301.8 42.18,307.2 42.40,303.1 42.62,309.4 42.84,300.3 43.06,299.0 43.28,306.0 43.50,311.1 43.72,305.3 43.94,296.5 44.16,309.2 44.38,307.6 44.60,301.1 44.82,294.9 45.04,296.4 45.26,289.0 45.48,292.9 45.70,290.0 45.92,282.7 46.14,298.4 46.36,307.8 46.58,293.0 46.80,290.6 47.02,290.8 47.24,281.3 47.46,293.1 47.68,288.7 47.90,292.0 48.12,287.5 48.34,290.0 48.56,288.2 48.78,293.0 49.00,266.9 49.22,283.6 49.44,293.8 49.66,291.4 49.88,286.6 50.10,281.2 50.32,285.3 50.54,273.9 50.76,269.7 50.98,255.8 51.20,264.0 51.42,264.3 51.64,267.4 51.86,282.3 52.08,265.0 52.30,276.4 52.52,281.1 52.74,273.7 52.96,282.1 53.18,274.6 53.40,274.7 53.62,281.3 53.84,278.1 54.06,289.5 54.28,288.4 54.50,285.9 54.72,289.5 54.94,266.3 55.16,287.9 55.38,275.6 55.60,294.1 55.82,280.0 56.04,295.2 56.26,287.0 56.48,306.6 56.70,285.7 56.92,301.7 57.14,283.5 57.36,293.8 57.58,290.5 57.80,297.6 58.02,333.8 58.24,300.6 58.46,300.2 58.68,323.4 58.90,316.7 59.12,322.2 59.34,310.8 59.56,296.3 59.78,302.4 60.00,316.0 60.22,318.1 60.44,309.8 60.66,302.6 60.88,311.0 61.10,294.8 61.32,301.0 61.54,305.6 61.76,312.4 61.98,293.0 62.20,287.2 62.42,307.7 62.64,301.3 62.86,301.4 63.08,297.4 63.30,297.1 63.52,289.9 63.74,300.5 63.96,297.3 64.18,300.7 64.40,291.8 64.62,290.9 64.84,300.2 65.06,301.8 65.28,293.5 65.50,293.2 65.72,280.0 65.94,270.3 66.16,268.1 66.38,280.4 66.60,298.7 66.82,286.0 67.04,284.6 67.26,277.9 67.48,258.4 67.70,271.5 67.92,257.7 68.14,276.3 68.36,275.1 68.58,259.4 68.80,271.2 69.02,275.4 69.24,268.3 69.46,273.0 69.68,269.6 69.90,256.0 70.12,261.4 70.34,267.4 70.56,279.9 70.78,267.1 71.00,276.8 71.22,283.9 71.44,288.2 71.66,289.2 71.88,293.8 72.10,293.0 72.32,303.8 72.54,305.6 72.76,297.8 72.98,293.0 73.20,288.5 73.42,300.7 73.64,269.2 73.86,290.8 74.08,306.4 74.30,307.6 74.52,290.1 74.74,289.3 74.96,271.4 75.18,291.0 75.40,294.7 75.62,298.6 75.84,297.4 76.06,293.7 76.28,268.2 76.50,287.7 76.72,302.2 76.94,291.0 77.16,296.5 77.38,292.8 77.60,297.9 77.82,301.3 78.04,299.6 78.26,313.1 78.48,305.5 78.70,310.0 78.92,298.3 79.14,310.5 79.36,326.9 79.58,309.6 79.80,302.4 80.02,295.4 80.24,316.0 80.46,312.9 80.68,304.2 80.90,310.0 81.12,306.4 81.34,298.6 81.56,295.9 81.78,293.1 82.00,295.4 82.22,296.5 82.44,312.3 82.66,309.2 82.88,311.0 83.10,301.6 83.32,298.4 83.54,301.1 83.76,289.3 83.98,285.2 84.20,302.7 84.42,301.1 84.64,285.2 84.86,296.2 85.08,304.6 85.30,308.6 85.52,314.1 85.74,309.8 85.96,294.3 86.18,299.2 86.40,296.1 86.62,318.8 86.84,296.5 87.06,305.0 87.28,307.8 87.50,297.5 87.72,308.2 87.94,305.2 88.16,303.5 88.38,311.1 88.60,299.0 88.82,295.9 89.04,303.6 89.26,298.6 89.48,310.3 89.70,307.7 89.92,307.1 90.14,286.7 90.36,311.2 90.58,336.7 90.80,307.4 91.02,327.8 91.24,315.4 91.46,318.0 91.68,307.4 91.90,311.5 92.12,311.5 92.34,302.0 92.56,303.9 92.78,309.9 93.00,324.6 93.22,316.2 93.44,322.0 93.66,306.4 93.88,304.3 94.10,294.2 94.32,297.6 94.54,287.5 94.76,294.3 94.98,289.6 95.20,288.3 95.42,300.1 95.64,288.6 95.86,277.0 96.08,279.7 96.30,295.0 96.52,284.0 96.74,284.1 96.96,290.9 97.18,284.5 97.40,293.9 97.62,297.2 97.84,301.5 98.06,305.1 98.28,311.9 98.50,314.7 98.72,306.4 98.94,302.6 99.16,301.1 99.38,301.9 99.60,289.3 99.82,297.2 100.04,287.1 100.26,292.3 100.48,294.1 100.70,300.2 100.92,299.5 101.14,290.7 101.36,297.6 101.58,301.7 101.80,309.2 102.02,307.9 102.24,310.1 102.46,304.7 102.68,299.2 102.90,296.5 103.12,308.7 103.34,287.7 103.56,292.4 103.78,308.1 104.00,316.3 104.22,308.5 104.44,314.0 104.66,313.1 104.88,305.8 105.10,320.2 105.32,306.8 105.54,312.7 105.76,324.9 105.98,327.6 106.20,325.5 106.42,328.5 106.64,316.8 106.86,296.3 107.08,324.2 107.30,320.8 107.52,314.6 107.74,315.1 107.96,327.2 108.18,325.7 108.40,336.1 108.62,326.4 108.84,332.4 109.06,331.1 109.28,337.3 109.50,325.0 109.72,330.5 109.94,321.1 110.16,332.2 110.38,318.4 110.60,308.1 110.82,311.1 111.04,320.6 111.26,317.2 111.48,315.2 111.70,310.0 111.92,302.9 112.14,304.1 112.36,302.2 112.58,310.4 112.80,307.5 113.02,303.8 113.24,294.4 113.46,315.0 113.68,305.4 113.90,301.4 114.12,303.8 114.34,305.9 114.56,307.5 114.78,296.8 115.00,301.8 115.22,307.3 115.44,307.3 115.66,295.5 115.88,291.1 116.10,303.7 116.32,297.4 116.54,318.0 116.76,316.8 116.98,305.0 117.20,306.8 117.42,307.0 117.64,321.8 117.86,324.1 118.08,328.4 118.30,337.6 118.52,319.0 118.74,325.0 118.96,332.8 119.18,321.8 119.40,317.0 119.62,327.5 119.84,328.9 120.06,313.2 120.28,318.5 120.50,315.2 120.72,312.9 120.94,307.6 121.16,314.0 121.38,317.2 121.60,312.2 121.82,324.5 122.04,321.8 122.26,326.7 122.48,312.3 122.70,328.0 122.92,331.1 123.14,323.8 123.36,319.8 123.58,310.9 123.80,301.4 124.02,303.8 124.24,306.8 124.46,314.7 124.68,312.8 124.90,295.6 125.12,292.0 125.34,299.0 125.56,302.6 125.78,308.5 126.00,301.9 126.22,305.6 126.44,299.3 126.66,303.7 126.88,299.5 127.10,301.2 127.32,297.4 127.54,296.7 127.76,302.9 127.98,302.0 128.20,311.0 128.42,301.1 128.64,305.4 128.86,302.9 129.08,304.8 129.30,306.2 129.52,298.8 129.74,305.3 129.96,303.5 130.18,307.1 130.40,307.6 130.62,304.5 130.84,314.1 131.06,318.6 131.28,315.8 131.50,314.7 131.72,309.5 131.94,303.4 132.16,301.9 132.38,317.7 132.60,305.4 132.82,315.6 133.04,330.3 133.26,325.3 133.48,331.9 133.70,333.6 133.92,312.6 134.14,326.8 134.36,329.8 134.58,313.3 134.80,316.9 135.02,333.2 135.24,319.1 135.46,309.5 135.68,302.7 135.90,294.6 136.12,309.4 136.34,328.7 136.56,315.6 136.78,316.6 137.00,307.0 137.22,300.6 137.44,319.0 137.66,305.5 137.88,300.3 138.10,309.2 138.32,285.1 138.54,300.9 138.76,310.9 138.98,299.6 139.20,294.0 139.42,305.4 139.64,299.3 139.86,288.7 140.08,284.4 140.30,288.8 140.52,285.0 140.74,295.2 140.96,294.6 141.18,289.6 141.40,274.5 141.62,302.3 141.84,290.1 142.06,262.0 142.28,303.1 142.50,293.3 142.72,294.8 142.94,288.3 143.16,292.2 143.38,281.9 143.60,287.2 143.82,295.1 144.04,290.1 144.26,299.4 144.48,296.5 144.70,297.8 144.92,313.7 145.14,307.1 145.36,299.0 145.58,290.3 145.80,306.5 146.02,301.6 146.24,323.1 146.46,311.0 146.68,331.0 146.90,354.6 147.12,319.7 147.34,321.2 147.56,331.1 147.78,328.0 148.00,323.9 148.22,330.6 148.44,312.2 148.66,314.4 148.88,321.2 149.10,327.6 149.32,314.5 149.54,326.1 149.76,312.6 149.98,326.2 150.20,336.2 150.42,323.7 150.64,320.1 150.86,313.2 151.08,318.1 151.30,313.5 151.52,314.9 151.74,315.4 151.96,295.1 152.18,296.1 152.40,317.9 152.62,306.1 152.84,304.9 153.06,308.9 153.28,290.4 153.50,305.2 153.72,296.6 153.94,306.8 154.16,328.8 154.38,325.3 154.60,317.7 154.82,283.6 155.04,309.5 155.26,287.3 155.48,296.7 155.70,279.7 155.92,295.4 156.14,283.4 156.36,289.4 156.58,295.1 156.80,294.0 157.02,306.5 157.24,286.3 157.46,296.9 157.68,297.0 157.90,308.5 158.12,294.8 158.34,306.1 158.56,318.3 158.78,305.7 159.00,323.9 159.22,303.9 159.44,306.6 159.66,301.4 159.88,295.1 160.10,298.3 160.32,289.8 160.54,302.7 160.76,288.7 160.98,283.5 161.20,302.2 161.42,295.7 161.64,285.8 161.86,297.3 162.08,306.1 162.30,299.3 162.52,308.6 162.74,319.6 162.96,308.7 163.18,306.8 163.40,330.9 163.62,315.7 163.84,340.3 164.06,337.5 164.28,343.1 164.50,336.5 164.72,332.8 164.94,338.3 165.16,335.2 165.38,316.7 165.60,316.6 165.82,351.5 166.04,324.7 166.26,314.7 166.48,311.8 166.70,324.7 166.92,326.2 167.14,316.6 167.36,322.2 167.58,310.5 167.80,324.5 168.02,320.1 168.24,303.1 168.46,307.3 168.68,301.3 168.90,301.6 169.12,308.9 169.34,304.6 169.56,313.4 169.78,300.4 170.00,300.4 170.22,308.1 170.44,299.8 170.66,301.7 170.88,296.3 171.10,296.1 171.32,297.6 171.54,287.9 171.76,296.7 171.98,286.2 172.20,285.3 172.42,274.5 172.64,284.0 172.86,282.1 173.08,268.1 173.30,267.9 173.52,268.2 173.74,271.0 173.96,263.5 174.18,278.9 174.40,270.8 174.62,274.7 174.84,281.6 175.06,262.3 175.28,284.0 175.50,277.2 175.72,280.1 175.94,278.2 176.16,278.0 176.38,285.3 176.60,286.8 176.82,291.4 177.04,285.8 177.26,285.5 177.48,284.4 177.70,275.8 177.92,275.6 178.14,284.9 178.36,281.8 178.58,274.6 178.80,268.9 179.02,268.6 179.24,275.7 179.46,278.9 179.68,276.5 179.90,276.9 180.12,268.3 180.34,275.5 180.56,286.4 180.78,296.3 181.00,275.5 181.22,282.8 181.44,294.7 181.66,296.1 181.88,300.1 182.10,295.7 182.32,299.3 182.54,296.7 182.76,303.5 182.98,291.6 183.20,287.6 183.42,288.1 183.64,285.8 183.86,298.8 184.08,286.8 184.30,286.4 184.52,283.5 184.74,282.8 184.96,288.9 185.18,274.5 185.40,276.3 185.62,267.8 185.84,279.7 186.06,281.7 186.28,282.5 186.50,289.7 186.72,284.6 186.94,292.4 187.16,291.1 187.38,295.0 187.60,300.5 187.82,305.8 188.04,301.0 188.26,285.4 188.48,282.7 188.70,270.7 188.92,282.9 189.14,281.5 189.36,287.4 189.58,287.6 189.80,293.2 190.02,280.1 190.24,284.8 190.46,276.1 190.68,279.5 190.90,276.6 191.12,268.6 191.34,259.2 191.56,273.0 191.78,283.0 192.00,263.7 192.22,272.1 192.44,268.8 192.66,254.0 192.88,275.2 193.10,276.8 193.32,271.1 193.54,272.2 193.76,264.9 193.98,268.3 194.20,259.9 194.42,263.9 194.64,264.2 194.86,267.5 195.08,272.4 195.30,273.5 195.52,273.6 195.74,257.8 195.96,268.6 196.18,273.1 196.40,271.7 196.62,272.6 196.84,276.3 197.06,257.5 197.28,260.5 197.50,264.9 197.72,239.0 197.94,265.4 198.16,250.9 198.38,249.8 198.60,241.0 198.82,270.5 199.04,271.8 199.26,254.4 199.48,264.1 199.70,293.7 199.92,266.6 200.14,266.5 200.36,261.0 200.58,260.8 200.80,258.3 201.02,262.3 201.24,255.0 201.46,265.0 201.68,267.8 201.90,271.4 202.12,257.8 202.34,263.6 202.56,273.7 202.78,270.9 203.00,269.2 203.22,277.5 203.44,275.2 203.66,280.0 203.88,281.7 204.10,289.0 204.32,299.6 204.54,294.8 204.76,291.6 204.98,302.2 205.20,295.4 205.42,315.0 205.64,329.8 205.86,297.9 206.08,309.3 206.30,316.8 206.52,312.5 206.74,307.4 206.96,300.4 207.18,305.2 207.40,305.0 207.62,297.1 207.84,298.7 208.06,290.1 208.28,290.6 208.50,292.8 208.72,298.0 208.94,294.7 209.16,306.8 209.38,304.5 209.60,290.4 209.82,299.1 210.04,298.0 210.26,301.7 210.48,289.2 210.70,291.3 210.92,282.5 211.14,281.3 211.36,275.2 211.58,281.5 211.80,290.3 212.02,289.6 212.24,287.0 212.46,284.5 212.68,279.4 212.90,284.4 213.12,283.4 213.34,287.2 213.56,290.6 213.78,297.4 214.00,288.0 214.22,285.4 214.44,284.6 214.66,275.2 214.88,287.9 215.10,280.2 215.32,285.5 215.54,276.4 215.76,267.2 215.98,280.1 216.20,277.8 216.42,277.7 216.64,275.0 216.86,274.0 217.08,283.0 217.30,276.0 217.52,272.2 217.74,278.9 217.96,294.4 218.18,292.5 218.40,299.4 218.62,305.0 218.84,296.4 219.06,291.3 219.28,290.4 219.50,289.5 219.72,289.7 219.94,290.7 220.16,301.2 220.38,306.4 220.60,307.0 220.82,300.4 221.04,304.1 221.26,306.7 221.48,304.8 221.70,315.8 221.92,318.3 222.14,318.1 222.36,310.8 222.58,329.7 222.80,312.4 223.02,308.2 223.24,328.8 223.46,312.9 223.68,335.7 223.90,339.2 224.12,331.0 224.34,316.3 224.56,310.9 224.78,318.3 225.00,312.3 225.22,314.2 225.44,304.4 225.66,318.0 225.88,323.5 226.10,316.5 226.32,308.0 226.54,319.3 226.76,324.4 226.98,302.3 227.20,297.5 227.42,278.3 227.64,298.3 227.86,287.9 228.08,293.8 228.30,294.5 228.52,296.1 228.74,289.2 228.96,289.9 229.18,283.9 229.40,289.3 229.62,282.2 229.84,273.9 230.06,275.3 230.28,295.1 230.50,288.1 230.72,288.1 230.94,277.1 231.16,288.2 231.38,313.3 231.60,287.1 231.82,263.3 232.04,272.0 232.26,276.9 232.48,254.4 232.70,261.6 232.92,289.9 233.14,282.0 233.36,284.0 233.58,290.0 233.80,289.8 234.02,293.4 234.24,300.0 234.46,316.6 234.68,286.1 234.90,298.3 235.12,285.8 235.34,308.8 235.56,318.5 235.78,319.6 236.00,316.2 236.22,333.4 236.44,321.4 236.66,313.5 236.88,317.5 237.10,309.1 237.32,320.7 237.54,318.3 237.76,331.6 237.98,320.9 238.20,313.3 238.42,333.9 238.64,324.1 238.86,357.5 239.08,344.7 239.30,333.3 239.52,330.3 239.74,327.0 239.96,324.3 240.18,338.5 240.40,332.5 240.62,310.1 240.84,307.8 241.06,303.8 241.28,300.2 241.50,313.1 241.72,299.6 241.94,314.1 242.16,309.2 242.38,311.5 242.60,306.2 242.82,305.3 243.04,294.2 243.26,303.3 243.48,301.5 243.70,312.0 243.92,309.8 244.14,303.9 244.36,312.4 244.58,309.7 244.80,303.4 245.02,308.4 245.24,305.0 245.46,293.4 245.68,294.3 245.90,301.2 246.12,280.1 246.34,286.2 246.56,291.1 246.78,295.6 247.00,296.3 247.22,301.1 247.44,290.1 247.66,286.2 247.88,296.2 248.10,293.3 248.32,295.9 248.54,299.9 248.76,299.3 248.98,305.3 249.20,290.1 249.42,317.6 249.64,319.6 249.86,305.7 250.08,314.2 250.30,308.5 250.52,315.0 250.74,312.3 250.96,318.5 251.18,306.9 251.40,313.9 251.62,311.5 251.84,310.8 252.06,313.6 252.28,300.8 252.50,310.6 252.72,304.4 252.94,312.6 253.16,316.8 253.38,306.9 253.60,298.6 253.82,314.7 254.04,307.9 254.26,312.4 254.48,317.9 254.70,320.7 254.92,317.0 255.14,311.3 255.36,317.1 255.58,314.9 255.80,297.8 256.02,299.7 256.24,285.8 256.46,299.0 256.68,279.2 256.90,287.1 257.12,290.4 257.34,283.1 257.56,271.3 257.78,279.4 258.00,269.1 258.22,268.8 258.44,262.8 258.66,254.9 258.88,245.4 259.10,251.7 259.32,248.7 259.54,249.6 259.76,246.5 259.98,253.3 260.20,254.3 260.42,258.0 260.64,266.6 260.86,267.1 261.08,266.8 261.30,272.7 261.52,274.1 261.74,270.3 261.96,271.0 262.18,279.1 262.40,278.0 262.62,285.8 262.84,281.1 263.06,274.5 263.28,284.6 263.50,274.9 263.72,276.9 263.94,284.6 264.16,283.4 264.38,286.8 264.60,287.0 264.82,294.7 265.04,294.4 265.26,290.7 265.48,298.1 265.70,308.4 265.92,300.9 266.14,301.0 266.36,301.1 266.58,294.7 266.80,307.1 267.02,312.8 267.24,309.7 267.46,308.1 267.68,305.8 267.90,302.4 268.12,302.6 268.34,311.3 268.56,317.7 268.78,303.2 269.00,308.1 269.22,295.4 269.44,294.9 269.66,283.2 269.88,299.5 270.10,289.9 270.32,286.4 270.54,293.1 270.76,288.3 270.98,281.9 271.20,285.5 271.42,292.4 271.64,288.7 271.86,307.5 272.08,280.1 272.30,271.1 272.52,288.1 272.74,291.6 272.96,295.8 273.18,288.5 273.40,294.6 273.62,302.3 273.84,293.6 274.06,286.9 274.28,283.7 274.50,290.2 274.72,283.9 274.94,287.1 275.16,289.4 275.38,287.9 275.60,302.3 275.82,280.3 276.04,301.2 276.26,293.0 276.48,286.2 276.70,290.3 276.92,291.9 277.14,284.1 277.36,297.6 277.58,292.6 277.80,298.6 278.02,308.1 278.24,309.8 278.46,305.0 278.68,305.0 278.90,306.3 279.12,312.0 279.34,322.2 279.56,328.4 279.78,315.7 280.00,307.4 280.22,311.5 280.44,300.7 280.66,331.1 280.88,311.3 281.10,315.6 281.32,330.4 281.54,324.4 281.76,339.3 281.98,326.8 282.20,318.5 282.42,320.7 282.64,310.3 282.86,320.0 283.08,327.1 283.30,326.6 283.52,313.6 283.74,315.6 283.96,327.1 284.18,318.5 284.40,301.7 284.62,294.3 284.84,304.5 285.06,299.8 285.28,295.6 285.50,313.0 285.72,330.4 285.94,309.5 286.16,295.0 286.38,301.8 286.60,289.0 286.82,305.9 287.04,285.2 287.26,282.1 287.48,306.3 287.70,297.6 287.92,279.9 288.14,313.6 288.36,302.6 288.58,309.9 288.80,289.6 289.02,272.3 289.24,288.0 289.46,256.5 289.68,273.4 289.90,281.3 290.12,285.0 290.34,290.7 290.56,290.4 290.78,302.1 291.00,281.2 291.22,286.0 291.44,306.9 291.66,295.0 291.88,298.6 292.10,299.3 292.32,304.8 292.54,314.9 292.76,302.5 292.98,306.1 293.20,307.2 293.42,322.2 293.64,320.6 293.86,298.6 294.08,315.3 294.30,315.0 294.52,307.7 294.74,315.0 294.96,302.8 295.18,322.6 295.40,309.7 295.62,320.3 295.84,327.3 296.06,336.5 296.28,324.9 296.50,326.1 296.72,324.4 296.94,313.0 297.16,324.2 297.38,319.0 297.60,316.0 297.82,324.3 298.04,318.1 298.26,318.1 298.48,326.3 298.70,318.7 298.92,319.5 299.14,308.0 299.36,298.0 299.58,295.2 299.80,294.4 300.02,295.4 300.24,311.2 300.46,297.8 300.68,297.6 300.90,277.2 301.12,295.5 301.34,294.0 301.56,293.0 301.78,288.1 302.00,263.8 302.22,267.1 302.44,262.8 302.66,268.2 302.88,256.5 303.10,291.5 303.32,279.8 303.54,279.6 303.76,287.9 303.98,290.3 304.20,293.7 304.42,291.6 304.64,297.7 304.86,285.9 305.08,293.0 305.30,287.3 305.52,289.5 305.74,296.6 305.96,293.3 306.18,295.7 306.40,296.1 306.62,299.5 306.84,297.8 307.06,302.7 307.28,299.0 307.50,303.2 307.72,312.7 307.94,296.7 308.16,308.2 308.38,302.3 308.60,296.4 308.82,307.7 309.04,305.4 309.26,314.2 309.48,320.9 309.70,313.8 309.92,318.7 310.14,323.4 310.36,315.7 310.58,317.4 310.80,305.6 311.02,312.1 311.24,309.0 311.46,303.8 311.68,299.8 311.90,305.6 312.12,304.9 312.34,303.5 312.56,312.7 312.78,309.3 313.00,307.2 313.22,311.4 313.44,299.4 313.66,304.0 313.88,306.4 314.10,303.6 314.32,299.4 314.54,297.3 314.76,307.0 314.98,283.1 315.20,270.1 315.42,279.5 315.64,270.7 315.86,274.1 316.08,270.5 316.30,273.9 316.52,275.3 316.74,284.1 316.96,260.1 317.18,264.6 317.40,268.6 317.62,269.9 317.84,264.2 318.06,255.9 318.28,256.0 318.50,271.4 318.72,249.7 318.94,272.1 319.16,270.0 319.38,278.0 319.60,268.8 319.82,285.3 320.04,294.8 320.26,283.3 320.48,297.1 320.70,287.6 320.92,278.8 321.14,281.9 321.36,288.8 321.58,292.0 321.80,273.3 322.02,281.7 322.24,286.6 322.46,285.2 322.68,298.4 322.90,294.3 323.12,291.0 323.34,319.3 323.56,301.2 323.78,295.1 324.00,305.7 324.22,294.6 324.44,288.9 324.66,308.3 324.88,303.1 325.10,305.3 325.32,306.2 325.54,297.1 325.76,309.1 325.98,309.0 326.20,310.7 326.42,312.4 326.64,313.7 326.86,320.5 327.08,313.6 327.30,314.9 327.52,309.3 327.74,300.3 327.96,294.7 328.18,297.9 328.40,303.3 328.62,317.5 328.84,328.2 329.06,320.1 329.28,318.9 329.50,311.0 329.72,317.7 329.94,309.9 330.16,315.7 330.38,303.3 330.60,295.5 330.82,296.6 331.04,294.7 331.26,304.7 331.48,288.9 331.70,292.5 331.92,281.7 332.14,294.4 332.36,283.7 332.58,288.8 332.80,295.1 333.02,301.6 333.24,290.4 333.46,300.7 333.68,305.2 333.90,315.3 334.12,340.6 334.34,317.8 334.56,330.0 334.78,328.1 335.00,322.3 335.22,323.5 335.44,310.7 335.66,297.5 335.88,312.2 336.10,316.6 336.32,315.5 336.54,311.4 336.76,320.7 336.98,324.3 337.20,319.5 337.42,315.2 337.64,319.6 337.86,326.4 338.08,312.1 338.30,318.9 338.52,325.0 338.74,327.7 338.96,334.6 339.18,325.1 339.40,330.2 339.62,327.1 339.84,324.9 340.06,330.6 340.28,329.0 340.50,317.7 340.72,320.2 340.94,322.0 341.16,303.0 341.38,296.0 341.60,300.7 341.82,285.2 342.04,284.3 342.26,281.7 342.48,286.5 342.70,289.1 342.92,276.7 343.14,271.6 343.36,275.6 343.58,277.4 343.80,281.0 344.02,284.0 344.24,276.0 344.46,275.8 344.68,287.4 344.90,285.2 345.12,285.7 345.34,286.0 345.56,281.7 345.78,291.4 346.00,289.4 346.22,279.7 346.44,282.7 346.66,277.6 346.88,287.1 347.10,288.2 347.32,290.7 347.54,278.0 347.76,284.9 347.98,281.9 348.20,280.2 348.42,301.0 348.64,295.8 348.86,298.5 349.08,300.3 349.30,299.5 349.52,299.9 349.74,307.4 349.96,307.4 350.18,304.5 350.40,298.8 350.62,303.3 350.84,307.3 351.06,302.4 351.28,316.7 351.50,310.0 351.72,319.4 351.94,310.5 352.16,316.2 352.38,303.8 352.60,303.4 352.82,308.6 353.04,309.2 353.26,314.0 353.48,321.6 353.70,316.7 353.92,324.3 354.14,314.2 354.36,321.1 354.58,302.6 354.80,306.9 355.02,315.3 355.24,309.0 355.46,305.4 355.68,303.5 355.90,301.2 356.12,296.5 356.34,288.1 356.56,296.5 356.78,297.6 357.00,284.3 357.22,285.7 357.44,283.5 357.66,288.5 357.88,287.4 358.10,283.9 358.32,282.2 358.54,271.1 358.76,262.7 358.98,267.2 359.20,280.7 359.42,260.3 359.64,259.7 359.86,262.2 360.08,255.8 360.30,253.8 360.52,264.3 360.74,258.6 360.96,266.6 361.18,260.1 361.40,261.4 361.62,256.8 361.84,263.2 362.06,252.8 362.28,245.5 362.50,243.0 362.72,255.1 362.94,255.7 363.16,261.1 363.38,262.7 363.60,262.7 363.82,267.4 364.04,271.6 364.26,277.0 364.48,273.4 364.70,290.1 364.92,283.9 365.14,270.6 365.36,276.2 365.58,271.7 365.80,285.5 366.02,291.1 366.24,286.2 366.46,299.5 366.68,287.1 366.90,304.4 367.12,296.6 367.34,321.7 367.56,321.5 367.78,313.4 368.00,316.8 368.22,330.5 368.44,317.4 368.66,322.6 368.88,318.0 369.10,328.3 369.32,333.3 369.54,346.6 369.76,317.6 369.98,309.9 370.20,322.8 370.42,303.7 370.64,318.7 370.86,328.8 371.08,322.9 371.30,316.6 371.52,325.0 371.74,325.7 371.96,322.2 372.18,328.4 372.40,318.3 372.62,325.9 372.84,298.6 373.06,301.2 373.28,312.0 373.50,303.0 373.72,288.4 373.94,301.9 374.16,304.6 374.38,299.7 374.60,294.8 374.82,299.7 375.04,296.8 375.26,287.7 375.48,263.4 375.70,286.3 375.92,289.4 376.14,292.8 376.36,292.7 376.58,289.4 376.80,293.0 377.02,296.2 377.24,268.6 377.46,276.6 377.68,279.2 377.90,282.1 378.12,313.9 378.34,293.7 378.56,296.3 378.78,269.7 379.00,284.7 379.22,298.3 379.44,287.4 379.66,281.5 379.88,302.8 380.10,291.9 380.32,293.2 380.54,292.8 380.76,289.8 380.98,295.1 381.20,302.2 381.42,320.3 381.64,313.0 381.86,321.4 382.08,290.0 382.30,333.0 382.52,327.5 382.74,329.2 382.96,332.2 383.18,327.0 383.40,319.7 383.62,330.8 383.84,346.6 384.06,341.9 384.28,345.9 384.50,370.5 384.72,357.4 384.94,344.4 385.16,337.9 385.38,372.5 385.60,336.9 385.82,365.6 386.04,346.4 386.26,356.0 386.48,348.3 386.70,339.8 386.92,320.3 387.14,326.8 387.36,332.9 387.58,326.5 387.80,329.9 388.02,327.6 388.24,313.8 388.46,323.6 388.68,319.0 388.90,293.7 389.12,305.9 389.34,295.2 389.56,310.5 389.78,282.7 390.00,288.7 390.22,275.2 390.44,295.2 390.66,293.8 390.88,292.1 391.10,284.7 391.32,277.8 391.54,283.9 391.76,266.2 391.98,275.6 392.20,288.6 392.42,284.7 392.64,280.3 392.86,270.3 393.08,288.6 393.30,270.0 393.52,292.5 393.74,283.1 393.96,275.5 394.18,291.1 394.40,291.7 394.62,287.4 394.84,291.8 395.06,291.7 395.28,297.9 395.50,287.5 395.72,306.8 395.94,308.9 396.16,284.7 396.38,281.6 396.60,288.9 396.82,292.0 397.04,306.5 397.26,292.1 397.48,304.7 397.70,316.5 397.92,325.1 398.14,301.9 398.36,326.2 398.58,330.5 398.80,312.1 399.02,327.3 399.24,342.3 399.46,338.2 399.68,364.0 399.90,337.5 400.12,336.2 400.34,345.5 400.56,314.2 400.78,337.3 401.00,337.2 401.22,325.2 401.44,336.3 401.66,323.6 401.88,328.2 402.10,325.4 402.32,324.8 402.54,336.1 402.76,340.5 402.98,329.7 403.20,317.8 403.42,325.3 403.64,322.2 403.86,313.5 404.08,320.6 404.30,306.2 404.52,310.5 404.74,306.4 404.96,308.0 405.18,296.9 405.40,289.6 405.62,298.4 405.84,297.2 406.06,281.8 406.28,284.9 406.50,281.2 406.72,286.9 406.94,239.6 407.16,268.3 407.38,255.4 407.60,248.3 407.82,241.2 408.04,261.9 408.26,246.8 408.48,259.6 408.70,255.3 408.92,251.6 409.14,272.9 409.36,270.6 409.58,276.2 409.80,289.3 410.02,281.4 410.24,285.3 410.46,279.2 410.68,275.0 410.90,280.8 411.12,276.7 411.34,279.6 411.56,276.9 411.78,276.1 412.00,283.8 412.22,297.5 412.44,288.5 412.66,298.9 412.88,305.9 413.10,310.7 413.32,320.0 413.54,336.9 413.76,325.9 413.98,312.6 414.20,320.7 414.42,330.3 414.64,319.3 414.86,317.0 415.08,315.4 415.30,321.0 415.52,321.4 415.74,304.7 415.96,309.5 416.18,316.7 416.40,309.0 416.62,312.4 416.84,310.0 417.06,300.4 417.28,291.3 417.50,287.6 417.72,293.9 417.94,292.4 418.16,294.9 418.38,287.7 418.60,293.9 418.82,290.4 419.04,287.3 419.26,288.8 419.48,297.5 419.70,298.4 419.92,302.2 420.14,300.3 420.36,299.0 420.58,297.7 420.80,299.6 421.02,286.7 421.24,300.7 421.46,294.4 421.68,299.6 421.90,286.1 422.12,287.1 422.34,279.6 422.56,294.1 422.78,292.9 423.00,289.4 423.22,284.0 423.44,291.6 423.66,292.3 423.88,298.9 424.10,320.6 424.32,308.2 424.54,317.0 424.76,309.4 424.98,303.5 425.20,315.3 425.42,313.5 425.64,312.4 425.86,311.6 426.08,314.3" fill="none" stroke="#111" stroke-width="0.5" stroke-opacity="0.88" stroke-linejoin="round"/>
<polyline points="38.3,297.76 38.8,297.02 39.3,296.46 39.8,296.12 40.3,296.00 40.8,296.08 41.3,296.40 41.8,296.94 42.3,297.67 42.8,298.58 43.3,299.61 43.8,300.72 44.3,301.85 44.8,302.97 45.3,304.00 45.8,304.91 46.3,305.64 46.8,306.16 47.3,306.45 47.8,306.48 48.3,306.26 48.8,305.79 49.3,305.08 49.8,304.17 50.3,303.11 50.8,301.93 51.3,300.69 51.8,299.45 52.3,298.27 52.8,297.20 53.3,296.31 53.8,295.62 54.3,295.17 54.8,295.00 55.3,295.07 55.8,295.42 56.3,296.04 56.8,296.91 57.3,297.99 57.8,299.23 58.3,300.58 58.8,301.98 59.3,303.37 59.8,304.67 60.3,305.83 60.8,306.78 61.3,307.49 61.8,307.90 62.3,308.00 62.8,307.78 63.3,307.23 63.8,306.38 64.3,305.27 64.8,303.93 65.3,302.43 65.8,300.84 66.3,299.22 66.8,297.66 67.3,296.23 67.8,294.99 68.3,294.01 68.8,293.34 69.3,293.02 69.8,293.12 70.3,293.59 70.8,294.41 71.3,295.53 71.8,296.90 72.3,298.46 72.8,300.14 73.3,301.86 73.8,303.54 74.3,305.10 74.8,306.47 75.3,307.59 75.8,308.41 76.3,308.88 76.8,308.99 77.3,308.73 77.8,308.12 78.3,307.18 78.8,305.95 79.3,304.49 79.8,302.88 80.3,301.17 80.8,299.46 81.3,297.82 81.8,296.33 82.3,295.05 82.8,294.04 83.3,293.36 83.8,293.03 84.3,293.08 84.8,293.49 85.3,294.22 85.8,295.24 86.3,296.50 86.8,297.96 87.3,299.53 87.8,301.16 88.3,302.77 88.8,304.30 89.3,305.67 89.8,306.82 90.3,307.72 90.8,308.31 91.3,308.58 91.8,308.52 92.3,308.14 92.8,307.44 93.3,306.47 93.8,305.27 94.3,303.89 94.8,302.39 95.3,300.85 95.8,299.32 96.3,297.87 96.8,296.58 97.3,295.48 97.8,294.63 98.3,294.07 98.8,293.81 99.3,293.86 99.8,294.21 100.3,294.84 100.8,295.74 101.3,296.87 101.8,298.17 102.3,299.59 102.8,301.07 103.3,302.55 103.8,303.95 104.3,305.23 104.8,306.32 105.3,307.18 105.8,307.77 106.3,308.06 106.8,308.06 107.3,307.75 107.8,307.15 108.3,306.28 108.8,305.19 109.3,303.92 109.8,302.53 110.3,301.07 110.8,299.62 111.3,298.22 111.8,296.95 112.3,295.86 112.8,294.98 113.3,294.37 113.8,294.05 114.3,294.01 114.8,294.25 115.3,294.77 115.8,295.57 116.3,296.61 116.8,297.85 117.3,299.23 117.8,300.70 118.3,302.20 118.8,303.66 119.3,305.02 119.8,306.21 120.3,307.20 120.8,307.93 121.3,308.37 121.8,308.50 122.3,308.31 122.8,307.80 123.3,307.00 123.8,305.94 124.3,304.65 124.8,303.20 125.3,301.64 125.8,300.04 126.3,298.47 126.8,296.99 127.3,295.67 127.8,294.57 128.3,293.73 128.8,293.20 129.3,293.00 129.8,293.13 130.3,293.64 130.8,294.53 131.3,295.76 131.8,297.26 132.3,298.97 132.8,300.81 133.3,302.69 133.8,304.52 134.3,306.21 134.8,307.67 135.3,308.82 135.8,309.60 136.3,309.98 136.8,309.91 137.3,309.41 137.8,308.49 138.3,307.18 138.8,305.55 139.3,303.67 139.8,301.63 140.3,299.53 140.8,297.47 141.3,295.55 141.8,293.87 142.3,292.52 142.8,291.57 143.3,291.07 143.8,291.09 144.3,291.63 144.8,292.63 145.3,294.05 145.8,295.81 146.3,297.83 146.8,300.00 147.3,302.22 147.8,304.39 148.3,306.38 148.8,308.11 149.3,309.49 149.8,310.45 150.3,310.94 150.8,310.94 151.3,310.45 151.8,309.49 152.3,308.11 152.8,306.38 153.3,304.39 153.8,302.22 154.3,300.00 154.8,297.83 155.3,295.81 155.8,294.05 156.3,292.63 156.8,291.63 157.3,291.09 157.8,291.05 158.3,291.50 158.8,292.38 159.3,293.65 159.8,295.25 160.3,297.10 160.8,299.12 161.3,301.21 161.8,303.28 162.3,305.23 162.8,306.97 163.3,308.42 163.8,309.52 164.3,310.22 164.8,310.50 165.3,310.33 165.8,309.74 166.3,308.75 166.8,307.41 167.3,305.78 167.8,303.95 168.3,302.00 168.8,300.01 169.3,298.08 169.8,296.30 170.3,294.76 170.8,293.51 171.3,292.61 171.8,292.11 172.3,292.01 172.8,292.31 173.3,293.02 173.8,294.11 174.3,295.52 174.8,297.20 175.3,299.05 175.8,301.00 176.3,302.95 176.8,304.80 177.3,306.48 177.8,307.89 178.3,308.98 178.8,309.69 179.3,309.99 179.8,309.86 180.3,309.31 180.8,308.37 181.3,307.08 181.8,305.50 182.3,303.71 182.8,301.78 183.3,299.83 183.8,297.92 184.3,296.16 184.8,294.64 185.3,293.41 185.8,292.54 186.3,292.08 186.8,292.03 187.3,292.38 187.8,293.14 188.3,294.26 188.8,295.70 189.3,297.39 189.8,299.25 190.3,301.20 190.8,303.14 191.3,305.00 191.8,306.68 192.3,308.10 192.8,309.20 193.3,309.92 193.8,310.24 194.3,310.13 194.8,309.59 195.3,308.66 195.8,307.37 196.3,305.78 196.8,303.97 197.3,302.01 197.8,299.99 198.3,298.02 198.8,296.17 199.3,294.55 199.8,293.21 200.3,292.23 200.8,291.65 201.3,291.49 201.8,291.70 202.3,292.35 202.8,293.42 203.3,294.86 203.8,296.63 204.3,298.63 204.8,300.78 205.3,302.99 205.8,305.14 206.3,307.14 206.8,308.90 207.3,310.31 207.8,311.32 208.3,311.87 208.8,311.92 209.3,311.46 209.8,310.50 210.3,309.08 210.8,307.26 211.3,305.12 211.8,302.74 212.3,300.24 212.8,297.74 213.3,295.35 213.8,293.18 214.3,291.33 214.8,289.91 215.3,288.98 215.8,288.60 216.3,288.86 216.8,289.67 217.3,291.02 217.8,292.84 218.3,295.04 218.8,297.53 219.3,300.19 219.8,302.90 220.3,305.53 220.8,307.97 221.3,310.10 221.8,311.82 222.3,313.05 222.8,313.72 223.3,313.81 223.8,313.31 224.3,312.24 224.8,310.64 225.3,308.59 225.8,306.17 226.3,303.51 226.8,300.72 227.3,297.93 227.8,295.26 228.3,292.85 228.8,290.81 229.3,289.22 229.8,288.18 230.3,287.72 230.8,287.84 231.3,288.55 231.8,289.82 232.3,291.59 232.8,293.80 233.3,296.35 233.8,299.13 234.3,302.01 234.8,304.88 235.3,307.59 235.8,310.03 236.3,312.09 236.8,313.68 237.3,314.71 237.8,315.14 238.3,314.95 238.8,314.13 239.3,312.72 239.8,310.78 240.3,308.39 240.8,305.65 241.3,302.68 241.8,299.62 242.3,296.59 242.8,293.73 243.3,291.18 243.8,289.04 244.3,287.42 244.8,286.39 245.3,286.00 245.8,286.33 246.3,287.33 246.8,288.97 247.3,291.17 247.8,293.83 248.3,296.82 248.8,300.02 249.3,303.28 249.8,306.43 250.3,309.35 250.8,311.88 251.3,313.92 251.8,315.37 252.3,316.16 252.8,316.25 253.3,315.64 253.8,314.35 254.3,312.44 254.8,309.99 255.3,307.13 255.8,303.97 256.3,300.67 256.8,297.37 257.3,294.23 257.8,291.40 258.3,289.01 258.8,287.16 259.3,285.94 259.8,285.42 260.3,285.62 260.8,286.54 261.3,288.12 261.8,290.30 262.3,292.98 262.8,296.03 263.3,299.32 263.8,302.68 264.3,305.98 264.8,309.04 265.3,311.75 265.8,313.95 266.3,315.57 266.8,316.51 267.3,316.74 267.8,316.24 268.3,315.04 268.8,313.19 269.3,310.77 269.8,307.90 270.3,304.71 270.8,301.34 271.3,297.95 271.8,294.70 272.3,291.74 272.8,289.19 273.3,287.19 273.8,285.83 274.3,285.16 274.8,285.24 275.3,286.08 275.8,287.65 276.3,289.87 276.8,292.64 277.3,295.81 277.8,299.24 278.3,302.76 278.8,306.19 279.3,309.37 279.8,312.14 280.3,314.38 280.8,315.96 281.3,316.81 281.8,316.89 282.3,316.20 282.8,314.76 283.3,312.66 283.8,309.98 284.3,306.87 284.8,303.46 285.3,299.94 285.8,296.47 286.3,293.21 286.8,290.34 287.3,287.98 287.8,286.26 288.3,285.25 288.8,285.02 289.3,285.56 289.8,286.81 290.3,288.70 290.8,291.16 291.3,294.07 291.8,297.28 292.3,300.66 292.8,304.04 293.3,307.27 293.8,310.21 294.3,312.71 294.8,314.66 295.3,315.98 295.8,316.60 296.3,316.51 296.8,315.70 297.3,314.21 297.8,312.12 298.3,309.53 298.8,306.55 299.3,303.32 299.8,300.00 300.3,296.74 300.8,293.68 301.3,290.96 301.8,288.72 302.3,287.05 302.8,286.03 303.3,285.70 303.8,286.03 304.3,287.02 304.8,288.62 305.3,290.76 305.8,293.35 306.3,296.27 306.8,299.40 307.3,302.60 307.8,305.73 308.3,308.65 308.8,311.24 309.3,313.38 309.8,314.98 310.3,315.97 310.8,316.30 311.3,315.97 311.8,314.98 312.3,313.38 312.8,311.24 313.3,308.65 313.8,305.73 314.3,302.60 314.8,299.40 315.3,296.27 315.8,293.35 316.3,290.76 316.8,288.62 317.3,287.02 317.8,286.03 318.3,285.70 318.8,286.02 319.3,287.06 319.8,288.76 320.3,291.06 320.8,293.84 321.3,296.98 321.8,300.32 322.3,303.71 322.8,307.00 323.3,310.01 323.8,312.62 324.3,314.68 324.8,316.11 325.3,316.82 325.8,316.79 326.3,316.00 326.8,314.50 327.3,312.35 327.8,309.65 328.3,306.52 328.8,303.11 329.3,299.59 329.8,296.11 330.3,292.85 330.8,289.96 331.3,287.58 331.8,285.83 332.3,284.78 332.8,284.50 333.3,284.92 333.8,286.06 334.3,287.86 334.8,290.26 335.3,293.15 335.8,296.42 336.3,299.93 336.8,303.51 337.3,307.02 337.8,310.30 338.3,313.20 338.8,315.59 339.3,317.36 339.8,318.44 340.3,318.75 340.8,318.29 341.3,317.06 341.8,315.12 342.3,312.54 342.8,309.42 343.3,305.91 343.8,302.15 344.3,298.31 344.8,294.55 345.3,291.03 345.8,287.93 346.3,285.37 346.8,283.47 347.3,282.33 347.8,281.99 348.3,282.46 348.8,283.79 349.3,285.96 349.8,288.85 350.3,292.36 350.8,296.33 351.3,300.57 351.8,304.89 352.3,309.10 352.8,313.00 353.3,316.39 353.8,319.12 354.3,321.04 354.8,322.06 355.3,322.11 355.8,321.18 356.3,319.30 356.8,316.54 357.3,313.02 357.8,308.89 358.3,304.33 358.8,299.56 359.3,294.79 359.8,290.24 360.3,286.14 360.8,282.67 361.3,280.01 361.8,278.29 362.3,277.60 362.8,278.04 363.3,279.50 363.8,281.90 364.3,285.15 364.8,289.13 365.3,293.64 365.8,298.50 366.3,303.50 366.8,308.43 367.3,313.05 367.8,317.17 368.3,320.61 368.8,323.21 369.3,324.85 369.8,325.45 370.3,324.98 370.8,323.46 371.3,320.95 371.8,317.55 372.3,313.40 372.8,308.69 373.3,303.61 373.8,298.39 374.3,293.25 374.8,288.42 375.3,284.12 375.8,280.54 376.3,277.83 376.8,276.13 377.3,275.50 377.8,276.10 378.3,277.86 378.8,280.67 379.3,284.42 379.8,288.93 380.3,293.99 380.8,299.36 381.3,304.81 381.8,310.07 382.3,314.90 382.8,319.09 383.3,322.44 383.8,324.79 384.3,326.05 384.8,326.15 385.3,325.09 385.8,322.92 386.3,319.75 386.8,315.71 387.3,311.00 387.8,305.84 388.3,300.46 388.8,295.11 389.3,290.04 389.8,285.49 390.3,281.65 390.8,278.72 391.3,276.81 391.8,276.02 392.3,276.50 392.8,278.09 393.3,280.66 393.8,284.09 394.3,288.22 394.8,292.84 395.3,297.76 395.8,302.74 396.3,307.56 396.8,312.03 397.3,315.93 397.8,319.12 398.3,321.45 398.8,322.85 399.3,323.26 399.8,322.69 400.3,321.17 400.8,318.78 401.3,315.65 401.8,311.93 402.3,307.79 402.8,303.43 403.3,299.03 403.8,294.80 404.3,290.91 404.8,287.54 405.3,284.83 405.8,282.87 406.3,281.75 406.8,281.50 407.3,282.10 407.8,283.56 408.3,285.79 408.8,288.69 409.3,292.10 409.8,295.87 410.3,299.81 410.8,303.74 411.3,307.48 411.8,310.86 412.3,313.72 412.8,315.96 413.3,317.47 413.8,318.20 414.3,318.12 414.8,317.27 415.3,315.68 415.8,313.45 416.3,310.68 416.8,307.53 417.3,304.13 417.8,300.65 418.3,297.26 418.8,294.10 419.3,291.32 419.8,289.04 420.3,287.35 420.8,286.32 421.3,285.98 421.8,286.25 422.3,287.17 422.8,288.72 423.3,290.83 423.8,293.40 424.3,296.31 424.8,299.41 425.3,302.58 425.8,305.66 426.3,308.51" fill="none" stroke="#3d3fa8" stroke-width="1.15" stroke-linejoin="round"/>
<rect x="38" y="238.5" width="388.5" height="134.6" fill="none" stroke="#a2a2a2" stroke-width="1.2"/>
<line x1="38" y1="259.5" x2="41.5" y2="259.5" stroke="#9a9a9a" stroke-width="1"/>
<line x1="38" y1="280" x2="41.5" y2="280" stroke="#9a9a9a" stroke-width="1"/>
<line x1="38" y1="300.6" x2="41.5" y2="300.6" stroke="#9a9a9a" stroke-width="1"/>
<line x1="38" y1="322.2" x2="41.5" y2="322.2" stroke="#9a9a9a" stroke-width="1"/>
<line x1="38" y1="343.5" x2="41.5" y2="343.5" stroke="#9a9a9a" stroke-width="1"/>
<line x1="38" y1="364.7" x2="41.5" y2="364.7" stroke="#9a9a9a" stroke-width="1"/>
<line x1="111.2" y1="373" x2="111.2" y2="369.5" stroke="#9a9a9a" stroke-width="1"/>
<line x1="184.4" y1="373" x2="184.4" y2="369.5" stroke="#9a9a9a" stroke-width="1"/>
<line x1="257.6" y1="373" x2="257.6" y2="369.5" stroke="#9a9a9a" stroke-width="1"/>
<line x1="330.8" y1="373" x2="330.8" y2="369.5" stroke="#9a9a9a" stroke-width="1"/>
<line x1="404.0" y1="373" x2="404.0" y2="369.5" stroke="#9a9a9a" stroke-width="1"/>
</g>
<g id="pbr" fill="none" stroke-width="1.5" stroke-linejoin="round">
<polyline points="496.5,142.4 505.5,140.4 514.5,140.4 523.5,143.0 532.5,140.9 541.5,143.5 550.5,145.5 559.5,146.5 568.5,147.0 577.5,148.0 586.5,148.5 595.5,148.0 604.5,147.5 613.5,148.5 622.5,153.5 631.5,160.6 640.5,161.6 649.5,160.1 658.5,161.6 667.5,166.1 676.5,170.2" stroke="rgb(0,0,0)"/>
<polyline points="496.5,154.0 505.5,155.0 514.5,156.1 523.5,160.6 532.5,157.8 541.5,153.5 550.5,149.5 559.5,152.5 568.5,157.8 577.5,159.6 586.5,161.1 595.5,159.1 604.5,157.1 613.5,157.1 622.5,158.6 631.5,162.1 640.5,163.1 649.5,161.1 658.5,162.6 667.5,166.6 676.5,170.7" stroke="rgb(0,0,0)"/>
<polyline points="496.5,145.4 505.5,145.0 514.5,144.8 523.5,144.7 532.5,142.6 541.5,142.4 550.5,144.2 559.5,148.6 568.5,151.3 577.5,154.3 586.5,154.8 595.5,151.9 604.5,150.7 613.5,149.8 622.5,160.3 631.5,169.6 640.5,169.1 649.5,168.3 658.5,170.2 667.5,173.1 676.5,175.1" stroke="rgb(0,0,0)"/>
<polyline points="496.5,156.8 505.5,154.4 514.5,155.5 523.5,156.4 532.5,151.6 541.5,154.7 550.5,154.6 559.5,152.4 568.5,154.8 577.5,154.0 586.5,152.6 595.5,155.1 604.5,153.1 613.5,155.2 622.5,157.2 631.5,167.1 640.5,167.7 649.5,166.4 658.5,168.9 667.5,172.6 676.5,174.5" stroke="rgb(0,0,0)"/>
<polyline points="496.5,147.0 505.5,142.8 514.5,143.4 523.5,147.2 532.5,144.8 541.5,143.4 550.5,144.2 559.5,146.9 568.5,149.1 577.5,152.2 586.5,153.2 595.5,151.1 604.5,149.1 613.5,148.1 622.5,152.4 631.5,164.5 640.5,165.5 649.5,162.9 658.5,166.3 667.5,170.1 676.5,171.6" stroke="rgb(0,0,0)"/>
<polyline points="496.5,146.1 505.5,144.3 514.5,145.9 523.5,147.0 532.5,147.0 541.5,147.7 550.5,148.0 559.5,149.7 568.5,150.7 577.5,151.3 586.5,151.0 595.5,150.0 604.5,151.2 613.5,149.9 622.5,155.6 631.5,166.5 640.5,168.0 649.5,165.5 658.5,168.7 667.5,170.9 676.5,173.5" stroke="rgb(0,0,0)"/>
<polyline points="496.5,148.7 505.5,145.7 514.5,145.8 523.5,150.3 532.5,145.4 541.5,147.7 550.5,146.9 559.5,150.0 568.5,149.4 577.5,149.3 586.5,150.6 595.5,151.3 604.5,150.7 613.5,150.6 622.5,165.4 631.5,172.8 640.5,172.9 649.5,172.4 658.5,173.9 667.5,176.7 676.5,178.8" stroke="rgb(1,2,5)"/>
<polyline points="496.5,156.6 505.5,154.6 514.5,155.7 523.5,159.0 532.5,156.0 541.5,155.5 550.5,151.6 559.5,150.9 568.5,150.4 577.5,149.2 586.5,148.2 595.5,150.9 604.5,152.7 613.5,156.3 622.5,157.3 631.5,167.3 640.5,169.2 649.5,167.7 658.5,169.6 667.5,172.3 676.5,174.5" stroke="rgb(2,4,10)"/>
<polyline points="496.5,159.7 505.5,156.2 514.5,155.9 523.5,158.1 532.5,156.1 541.5,156.3 550.5,153.8 559.5,148.9 568.5,148.6 577.5,147.8 586.5,149.0 595.5,147.9 604.5,151.6 613.5,155.9 622.5,160.2 631.5,168.9 640.5,169.4 649.5,169.3 658.5,171.1 667.5,173.7 676.5,177.0" stroke="rgb(3,6,15)"/>
<polyline points="496.5,149.9 505.5,149.6 514.5,147.9 523.5,152.5 532.5,147.9 541.5,151.1 550.5,148.0 559.5,147.3 568.5,146.2 577.5,146.3 586.5,147.0 595.5,146.7 604.5,147.5 613.5,149.3 622.5,155.5 631.5,165.8 640.5,166.0 649.5,165.8 658.5,167.1 667.5,170.7 676.5,173.3" stroke="rgb(5,7,19)"/>
<polyline points="496.5,154.9 505.5,152.2 514.5,152.4 523.5,154.4 532.5,150.5 541.5,151.6 550.5,147.2 559.5,145.3 568.5,144.4 577.5,144.9 586.5,145.1 595.5,145.8 604.5,146.3 613.5,151.2 622.5,160.6 631.5,169.4 640.5,170.8 649.5,169.7 658.5,172.9 667.5,175.7 676.5,177.4" stroke="rgb(7,11,28)"/>
<polyline points="496.5,147.4 505.5,146.5 514.5,144.6 523.5,148.1 532.5,146.6 541.5,147.2 550.5,146.4 559.5,143.6 568.5,142.8 577.5,144.9 586.5,143.1 595.5,144.7 604.5,144.1 613.5,144.9 622.5,156.6 631.5,166.5 640.5,168.3 649.5,167.6 658.5,169.3 667.5,171.9 676.5,175.0" stroke="rgb(9,14,34)"/>
<polyline points="496.5,146.8 505.5,142.5 514.5,144.4 523.5,148.0 532.5,141.7 541.5,145.6 550.5,142.5 559.5,141.4 568.5,139.9 577.5,141.3 586.5,141.9 595.5,141.9 604.5,142.8 613.5,143.8 622.5,157.4 631.5,166.8 640.5,168.8 649.5,167.1 658.5,170.1 667.5,171.3 676.5,173.9" stroke="rgb(12,19,46)"/>
<polyline points="496.5,153.3 505.5,152.7 514.5,151.2 523.5,152.6 532.5,149.9 541.5,150.1 550.5,143.9 559.5,140.4 568.5,137.7 577.5,138.1 586.5,136.8 595.5,137.9 604.5,142.3 613.5,148.5 622.5,159.2 631.5,169.5 640.5,170.5 649.5,169.0 658.5,171.1 667.5,173.6 676.5,176.6" stroke="rgb(15,23,58)"/>
<polyline points="496.5,144.9 505.5,144.6 514.5,143.2 523.5,147.0 532.5,144.9 541.5,144.1 550.5,140.3 559.5,136.7 568.5,134.7 577.5,135.5 586.5,136.4 595.5,134.7 604.5,137.1 613.5,143.6 622.5,156.1 631.5,166.8 640.5,167.4 649.5,164.9 658.5,167.4 667.5,170.9 676.5,173.9" stroke="rgb(18,28,70)"/>
<polyline points="496.5,155.5 505.5,153.2 514.5,154.9 523.5,157.8 532.5,152.5 541.5,150.7 550.5,142.7 559.5,135.3 568.5,133.4 577.5,133.6 586.5,133.0 595.5,134.3 604.5,136.6 613.5,147.8 622.5,162.7 631.5,171.6 640.5,172.4 649.5,171.3 658.5,174.3 667.5,176.3 676.5,178.9" stroke="rgb(21,32,79)"/>
<polyline points="496.5,151.4 505.5,150.4 514.5,149.0 523.5,151.5 532.5,148.2 541.5,145.6 550.5,138.2 559.5,131.7 568.5,129.7 577.5,130.9 586.5,130.8 595.5,130.6 604.5,135.6 613.5,145.2 622.5,153.5 631.5,165.7 640.5,165.4 649.5,163.8 658.5,167.6 667.5,170.7 676.5,173.1" stroke="rgb(23,35,87)"/>
<polyline points="496.5,144.8 505.5,146.2 514.5,146.0 523.5,148.9 532.5,144.7 541.5,143.0 550.5,136.5 559.5,130.4 568.5,129.5 577.5,129.7 586.5,130.0 595.5,128.0 604.5,133.3 613.5,140.6 622.5,158.4 631.5,168.2 640.5,170.1 649.5,168.1 658.5,171.3 667.5,173.2 676.5,174.7" stroke="rgb(24,38,94)"/>
<polyline points="496.5,155.1 505.5,151.7 514.5,152.3 523.5,156.5 532.5,153.2 541.5,146.0 550.5,135.3 559.5,126.9 568.5,125.4 577.5,122.9 586.5,126.2 595.5,127.4 604.5,130.1 613.5,145.0 622.5,159.0 631.5,168.3 640.5,168.5 649.5,167.9 658.5,171.0 667.5,174.3 676.5,176.6" stroke="rgb(28,44,109)"/>
<polyline points="496.5,157.0 505.5,152.1 514.5,154.6 523.5,154.8 532.5,152.7 541.5,146.1 550.5,135.6 559.5,123.8 568.5,123.9 577.5,121.3 586.5,122.9 595.5,123.3 604.5,128.5 613.5,145.6 622.5,158.4 631.5,169.3 640.5,169.9 649.5,168.7 658.5,170.8 667.5,172.4 676.5,175.9" stroke="rgb(31,48,118)"/>
<polyline points="496.5,159.7 505.5,155.0 514.5,156.9 523.5,158.2 532.5,157.9 541.5,148.2 550.5,134.3 559.5,123.2 568.5,121.1 577.5,119.9 586.5,121.6 595.5,123.1 604.5,129.2 613.5,146.2 622.5,161.7 631.5,170.1 640.5,172.6 649.5,170.8 658.5,173.6 667.5,176.6 676.5,178.6" stroke="rgb(33,51,125)"/>
<polyline points="496.5,144.2 505.5,144.8 514.5,143.6 523.5,146.9 532.5,144.3 541.5,138.5 550.5,128.4 559.5,120.5 568.5,118.4 577.5,118.3 586.5,116.7 595.5,118.5 604.5,122.5 613.5,136.6 622.5,154.8 631.5,166.6 640.5,167.5 649.5,166.0 658.5,168.4 667.5,171.9 676.5,174.8" stroke="rgb(35,54,134)"/>
<polyline points="496.5,154.7 505.5,151.0 514.5,151.7 523.5,156.0 532.5,150.9 541.5,144.5 550.5,131.5 559.5,117.9 568.5,116.2 577.5,113.1 586.5,114.9 595.5,117.1 604.5,122.0 613.5,142.4 622.5,153.7 631.5,166.9 640.5,167.7 649.5,164.6 658.5,167.9 667.5,171.6 676.5,174.1" stroke="rgb(38,59,145)"/>
<polyline points="496.5,146.9 505.5,145.5 514.5,145.0 523.5,147.7 532.5,143.1 541.5,138.1 550.5,127.7 559.5,115.1 568.5,114.3 577.5,111.8 586.5,112.7 595.5,113.0 604.5,119.6 613.5,135.2 622.5,163.0 631.5,171.4 640.5,173.0 649.5,170.5 658.5,173.7 667.5,177.2 676.5,179.3" stroke="rgb(40,61,152)"/>
<polyline points="496.5,146.6 505.5,142.0 514.5,144.7 523.5,145.5 532.5,141.4 541.5,135.3 550.5,125.6 559.5,114.3 568.5,110.0 577.5,111.3 586.5,110.4 595.5,112.5 604.5,118.9 613.5,133.5 622.5,155.7 631.5,167.1 640.5,167.6 649.5,166.7 658.5,169.5 667.5,171.2 676.5,173.1" stroke="rgb(42,64,159)"/>
<polyline points="496.5,157.0 505.5,156.2 514.5,157.2 523.5,157.7 532.5,154.2 541.5,145.9 550.5,128.5 559.5,113.0 568.5,109.7 577.5,108.7 586.5,110.0 595.5,110.9 604.5,118.1 613.5,143.1 622.5,153.1 631.5,164.5 640.5,165.5 649.5,164.3 658.5,168.3 667.5,169.7 676.5,171.4" stroke="rgb(43,67,166)"/>
<polyline points="496.5,153.3 505.5,153.5 514.5,153.3 523.5,154.8 532.5,150.2 541.5,139.5 550.5,124.0 559.5,110.1 568.5,104.3 577.5,103.9 586.5,104.2 595.5,106.0 604.5,114.2 613.5,137.7 622.5,152.9 631.5,166.2 640.5,167.2 649.5,164.7 658.5,168.8 667.5,171.4 676.5,172.6" stroke="rgb(48,74,182)"/>
<polyline points="496.5,159.2 505.5,155.1 514.5,156.1 523.5,160.3 532.5,157.2 541.5,144.7 550.5,123.4 559.5,107.9 568.5,103.0 577.5,101.7 586.5,102.0 595.5,104.7 604.5,113.4 613.5,141.4 622.5,155.9 631.5,168.3 640.5,168.8 649.5,167.7 658.5,170.5 667.5,172.8 676.5,175.2" stroke="rgb(48,74,182)"/>
<polyline points="496.5,153.4 505.5,149.3 514.5,151.9 523.5,152.1 532.5,149.2 541.5,138.6 550.5,122.1 559.5,103.5 568.5,101.2 577.5,99.9 586.5,101.0 595.5,101.3 604.5,111.3 613.5,136.4 622.5,160.8 631.5,171.4 640.5,171.4 649.5,170.2 658.5,173.3 667.5,175.1 676.5,177.3" stroke="rgb(48,74,182)"/>
<polyline points="496.5,149.5 505.5,149.2 514.5,148.3 523.5,151.2 532.5,149.1 541.5,138.0 550.5,119.1 559.5,102.7 568.5,97.8 577.5,96.2 586.5,98.1 595.5,101.2 604.5,108.1 613.5,135.2 622.5,151.5 631.5,163.9 640.5,164.8 649.5,164.2 658.5,166.0 667.5,168.2 676.5,171.6" stroke="rgb(48,74,182)"/>
<polyline points="496.5,157.9 505.5,156.1 514.5,157.1 523.5,157.9 532.5,155.2 541.5,140.3 550.5,119.8 559.5,101.6 568.5,95.2 577.5,96.1 586.5,95.8 595.5,99.0 604.5,108.5 613.5,138.0 622.5,158.5 631.5,170.1 640.5,171.8 649.5,169.1 658.5,172.9 667.5,174.8 676.5,177.4" stroke="rgb(48,74,182)"/>
<polyline points="496.5,148.4 505.5,148.6 514.5,146.9 523.5,149.9 532.5,146.6 541.5,134.3 550.5,114.5 559.5,96.0 568.5,92.4 577.5,90.4 586.5,93.3 595.5,95.6 604.5,104.0 613.5,130.1 622.5,154.4 631.5,165.8 640.5,166.9 649.5,166.6 658.5,168.5 667.5,171.8 676.5,174.4" stroke="rgb(48,74,182)"/>
<polyline points="496.5,150.5 505.5,149.5 514.5,148.8 523.5,151.6 532.5,148.1 541.5,135.4 550.5,114.1 559.5,94.5 568.5,89.9 577.5,89.5 586.5,88.9 595.5,91.6 604.5,102.1 613.5,129.8 622.5,159.2 631.5,170.4 640.5,171.4 649.5,170.6 658.5,172.0 667.5,174.6 676.5,177.8" stroke="rgb(48,74,182)"/>
<polyline points="496.5,153.2 505.5,150.8 514.5,149.5 523.5,151.5 532.5,150.3 541.5,134.1 550.5,112.7 559.5,92.9 568.5,88.5 577.5,86.2 586.5,88.4 595.5,90.3 604.5,101.9 613.5,131.1 622.5,158.3 631.5,169.2 640.5,171.0 649.5,168.2 658.5,171.6 667.5,174.5 676.5,177.9" stroke="rgb(48,74,182)"/>
<polyline points="496.5,144.6 505.5,145.3 514.5,144.6 523.5,147.9 532.5,142.4 541.5,130.6 550.5,110.3 559.5,90.0 568.5,86.2 577.5,84.1 586.5,86.5 595.5,89.1 604.5,98.0 613.5,126.5 622.5,155.4 631.5,167.2 640.5,168.7 649.5,166.7 658.5,168.3 667.5,171.1 676.5,174.0" stroke="rgb(48,74,182)"/>
<polyline points="496.5,155.8 505.5,153.7 514.5,152.3 523.5,153.5 532.5,153.4 541.5,137.1 550.5,110.7 559.5,90.0 568.5,85.4 577.5,83.8 586.5,83.8 595.5,86.3 604.5,98.8 613.5,131.7 622.5,161.7 631.5,170.2 640.5,173.0 649.5,170.6 658.5,172.7 667.5,176.9 676.5,177.9" stroke="rgb(48,74,182)"/>
<polyline points="496.5,144.7 505.5,142.3 514.5,142.8 523.5,147.1 532.5,144.1 541.5,128.6 550.5,106.3 559.5,88.2 568.5,81.7 577.5,79.6 586.5,80.3 595.5,85.8 604.5,93.4 613.5,126.0 622.5,161.1 631.5,170.7 640.5,171.1 649.5,170.7 658.5,172.3 667.5,175.9 676.5,178.6" stroke="rgb(48,74,182)"/>
<polyline points="496.5,156.2 505.5,152.1 514.5,153.8 523.5,156.2 532.5,151.3 541.5,134.8 550.5,110.2 559.5,86.1 568.5,80.1 577.5,79.8 586.5,78.1 595.5,84.4 604.5,94.4 613.5,129.1 622.5,155.9 631.5,166.6 640.5,168.5 649.5,166.6 658.5,170.5 667.5,173.2 676.5,175.2" stroke="rgb(48,74,182)"/>
<polyline points="496.5,158.0 505.5,156.7 514.5,154.1 523.5,158.7 532.5,155.7 541.5,134.4 550.5,108.2 559.5,85.1 568.5,77.4 577.5,76.3 586.5,77.1 595.5,82.1 604.5,92.7 613.5,130.4 622.5,153.6 631.5,166.3 640.5,168.5 649.5,166.9 658.5,170.0 667.5,172.8 676.5,175.3" stroke="rgb(48,74,182)"/>
<polyline points="496.5,151.5 505.5,150.5 514.5,151.5 523.5,153.5 532.5,148.5 541.5,122.3 550.5,90.0 559.5,66.8 568.5,58.3 577.5,54.8 586.5,56.3 595.5,61.3 604.5,77.4 613.5,116.2 622.5,154.0 631.5,168.7 640.5,169.7 649.5,168.2 658.5,170.7 667.5,173.7 676.5,176.2" stroke="rgb(48,74,182)"/>
</g>
<path d="M496.5,10.8 H677.5 V186.8" fill="none" stroke="#ececec" stroke-width="1"/>
<path d="M496.5,10.8 V186.8 H677.5" fill="none" stroke="#9a9a9a" stroke-width="1.2"/>
<line x1="496.5" y1="186.8" x2="499.5" y2="186.8" stroke="#9a9a9a" stroke-width="1"/>
<line x1="496.5" y1="161.6" x2="499.5" y2="161.6" stroke="#9a9a9a" stroke-width="1"/>
<line x1="496.5" y1="136.4" x2="499.5" y2="136.4" stroke="#9a9a9a" stroke-width="1"/>
<line x1="496.5" y1="111.2" x2="499.5" y2="111.2" stroke="#9a9a9a" stroke-width="1"/>
<line x1="496.5" y1="86.0" x2="499.5" y2="86.0" stroke="#9a9a9a" stroke-width="1"/>
<line x1="496.5" y1="60.8" x2="499.5" y2="60.8" stroke="#9a9a9a" stroke-width="1"/>
<line x1="496.5" y1="35.6" x2="499.5" y2="35.6" stroke="#9a9a9a" stroke-width="1"/>
<line x1="496.5" y1="10.4" x2="499.5" y2="10.4" stroke="#9a9a9a" stroke-width="1"/>
<line x1="496.5" y1="186.8" x2="496.5" y2="183.6" stroke="#9a9a9a" stroke-width="1"/>
<line x1="514.5" y1="186.8" x2="514.5" y2="183.6" stroke="#9a9a9a" stroke-width="1"/>
<line x1="532.5" y1="186.8" x2="532.5" y2="183.6" stroke="#9a9a9a" stroke-width="1"/>
<line x1="550.5" y1="186.8" x2="550.5" y2="183.6" stroke="#9a9a9a" stroke-width="1"/>
<line x1="568.5" y1="186.8" x2="568.5" y2="183.6" stroke="#9a9a9a" stroke-width="1"/>
<line x1="586.5" y1="186.8" x2="586.5" y2="183.6" stroke="#9a9a9a" stroke-width="1"/>
<line x1="604.5" y1="186.8" x2="604.5" y2="183.6" stroke="#9a9a9a" stroke-width="1"/>
<line x1="622.5" y1="186.8" x2="622.5" y2="183.6" stroke="#9a9a9a" stroke-width="1"/>
<line x1="640.5" y1="186.8" x2="640.5" y2="183.6" stroke="#9a9a9a" stroke-width="1"/>
<line x1="658.5" y1="186.8" x2="658.5" y2="183.6" stroke="#9a9a9a" stroke-width="1"/>
<line x1="676.5" y1="186.8" x2="676.5" y2="183.6" stroke="#9a9a9a" stroke-width="1"/>
<polygon points="496.5,297.6 505.5,295.2 514.5,294.2 523.5,294.5 532.5,290.7 541.5,277.2 550.5,254.3 559.5,244.9 568.5,244.9 577.5,247.6 586.5,250.1 595.5,252.5 604.5,260.8 613.5,293.6 622.5,321.7 631.5,336.5 640.5,339.2 649.5,337.3 658.5,339.2 667.5,345.7 676.5,352.5 676.5,354.4 667.5,347.6 658.5,341.2 649.5,339.2 640.5,341.2 631.5,338.5 622.5,324.6 613.5,301.3 604.5,280.1 595.5,273.7 586.5,270.3 577.5,267.8 568.5,264.8 559.5,264.8 550.5,272.7 541.5,286.8 532.5,297.5 523.5,300.3 514.5,300.0 505.5,301.0 496.5,303.4" fill="#8c86d2" stroke="#6f68c0" stroke-width="0.8"/>
<polyline points="496.5,300.5 505.5,298.1 514.5,297.1 523.5,297.4 532.5,294.1 541.5,282.0 550.5,263.5 559.5,254.8 568.5,254.8 577.5,257.7 586.5,260.2 595.5,263.1 604.5,270.4 613.5,297.5 622.5,323.1 631.5,337.5 640.5,340.2 649.5,338.3 658.5,340.2 667.5,346.7 676.5,353.4" fill="none" stroke="#2a2a44" stroke-width="0.8"/>
<path d="M496.5,238.5 H677.5 V373.7" fill="none" stroke="#c4c4c4" stroke-width="1.2"/>
<path d="M496.5,238.5 V373.7 H677.5" fill="none" stroke="#9a9a9a" stroke-width="1.2"/>
<line x1="496.5" y1="373.7" x2="499.5" y2="373.7" stroke="#9a9a9a" stroke-width="1"/>
<line x1="496.5" y1="354.4" x2="499.5" y2="354.4" stroke="#9a9a9a" stroke-width="1"/>
<line x1="496.5" y1="335.1" x2="499.5" y2="335.1" stroke="#9a9a9a" stroke-width="1"/>
<line x1="496.5" y1="315.8" x2="499.5" y2="315.8" stroke="#9a9a9a" stroke-width="1"/>
<line x1="496.5" y1="296.5" x2="499.5" y2="296.5" stroke="#9a9a9a" stroke-width="1"/>
<line x1="496.5" y1="277.2" x2="499.5" y2="277.2" stroke="#9a9a9a" stroke-width="1"/>
<line x1="496.5" y1="257.9" x2="499.5" y2="257.9" stroke="#9a9a9a" stroke-width="1"/>
<line x1="496.5" y1="238.6" x2="499.5" y2="238.6" stroke="#9a9a9a" stroke-width="1"/>
<line x1="541.5" y1="373.7" x2="541.5" y2="370.5" stroke="#9a9a9a" stroke-width="1"/>
<line x1="586.5" y1="373.7" x2="586.5" y2="370.5" stroke="#9a9a9a" stroke-width="1"/>
<line x1="631.5" y1="373.7" x2="631.5" y2="370.5" stroke="#9a9a9a" stroke-width="1"/>
<g font-family="Liberation Sans, sans-serif">
<text x="0" y="0" font-size="21.8" text-anchor="start" font-weight="bold" fill="#000" transform="translate(0.2 15.6) scale(0.86 1)">a</text>
<text x="-0.6" y="243.5" font-size="21" text-anchor="start" font-weight="bold" fill="#000">b</text>
<text x="448.5" y="15.3" font-size="21" text-anchor="start" font-weight="bold" fill="#000">b</text>
<text x="448.9" y="243.5" font-size="21" text-anchor="start" font-weight="bold" fill="#000">c</text>
<text x="10.9" y="98.6" font-size="14.6" text-anchor="middle" font-weight="normal" fill="#111" transform="rotate(-90 10.9 98.6)">Max. 65% norm.</text>
<text x="26.8" y="99.2" font-size="14.55" text-anchor="middle" font-weight="normal" fill="#111" transform="rotate(-90 26.8 99.2)">spiking—all channels</text>
<text x="11.4" y="306.8" font-size="14.45" text-anchor="middle" font-weight="normal" fill="#111" transform="rotate(-90 11.4 306.8)">Super MUA (a.u.)</text>
<text x="28.5" y="306.6" font-size="14.2" text-anchor="middle" font-weight="normal" fill="#111">0</text>
<text x="38.0" y="390.4" font-size="14.25" text-anchor="middle" font-weight="normal" fill="#111">0</text>
<text x="111.2" y="390.4" font-size="14.25" text-anchor="middle" font-weight="normal" fill="#111">500</text>
<text x="184.4" y="390.4" font-size="14.25" text-anchor="middle" font-weight="normal" fill="#111">1000</text>
<text x="257.6" y="390.4" font-size="14.25" text-anchor="middle" font-weight="normal" fill="#111">1500</text>
<text x="330.8" y="390.4" font-size="14.25" text-anchor="middle" font-weight="normal" fill="#111">2000</text>
<text x="404.0" y="390.4" font-size="14.25" text-anchor="middle" font-weight="normal" fill="#111">2500</text>
<text x="232.7" y="411.5" font-size="14.4" text-anchor="middle" font-weight="normal" fill="#111">Time [ms]</text>
<text x="462.6" y="99.2" font-size="14.35" text-anchor="middle" font-weight="normal" fill="#111" transform="rotate(-90 462.6 99.2)">Δ Spike prob. (%)</text>
<text x="490.6" y="141.5" font-size="14.3" text-anchor="end" font-weight="normal" fill="#111">10</text>
<text x="490.6" y="91.1" font-size="14.3" text-anchor="end" font-weight="normal" fill="#111">20</text>
<text x="490.6" y="40.7" font-size="14.3" text-anchor="end" font-weight="normal" fill="#111">30</text>
<text x="496.5" y="203.0" font-size="14.3" text-anchor="middle" font-weight="normal" fill="#111">5</text>
<text x="586.5" y="203.0" font-size="14.3" text-anchor="middle" font-weight="normal" fill="#111">10</text>
<text x="676.5" y="203.0" font-size="14.3" text-anchor="middle" font-weight="normal" fill="#111">15</text>
<text x="673.3" y="23.8" font-size="10.4" text-anchor="end" font-weight="normal" fill="#111">Channels of individual session</text>
<text x="673.3" y="35.8" font-size="10.4" text-anchor="end" font-weight="normal" fill="#111">(panel A)</text>
<text x="462.6" y="306.0" font-size="14.35" text-anchor="middle" font-weight="normal" fill="#111" transform="rotate(-90 462.6 306.0)">Δ Spike prob. (%)</text>
<text x="490.6" y="378.8" font-size="14.3" text-anchor="end" font-weight="normal" fill="#111">0</text>
<text x="490.6" y="340.2" font-size="14.3" text-anchor="end" font-weight="normal" fill="#111">4</text>
<text x="490.6" y="301.6" font-size="14.3" text-anchor="end" font-weight="normal" fill="#111">8</text>
<text x="490.6" y="263.0" font-size="14.3" text-anchor="end" font-weight="normal" fill="#111">12</text>
<text x="496.5" y="390.6" font-size="14.3" text-anchor="middle" font-weight="normal" fill="#111">5</text>
<text x="586.5" y="390.6" font-size="14.3" text-anchor="middle" font-weight="normal" fill="#111">10</text>
<text x="676.5" y="390.6" font-size="14.3" text-anchor="middle" font-weight="normal" fill="#111">15</text>
<text x="587.3" y="411.9" font-size="14.2" text-anchor="middle" font-weight="normal" fill="#111">Frequency [Hz]</text>
<text x="675.0" y="369.0" font-size="10.4" text-anchor="end" font-weight="normal" fill="#111">All sessions</text>
</g>
</svg>
</body></html>
